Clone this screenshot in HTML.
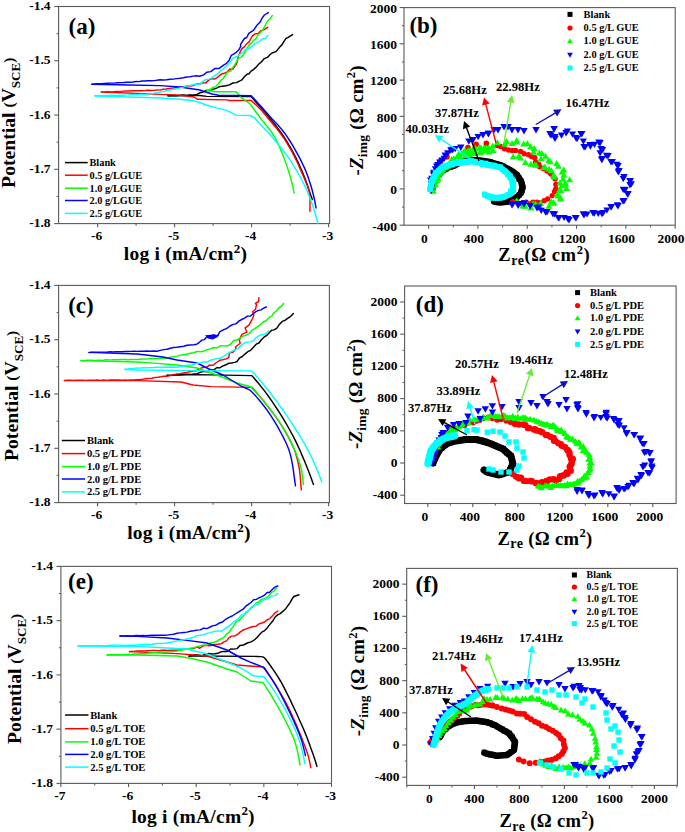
<!DOCTYPE html><html><head><meta charset="utf-8"><style>html,body{margin:0;padding:0;background:#fff;}svg{display:block;}</style></head><body>
<svg width="685" height="832" viewBox="0 0 685 832" font-family='"Liberation Serif", serif' font-weight="bold" fill="#000">
<rect width="685" height="832" fill="#fff"/>
<rect x="58.6" y="6.5" width="271.0" height="217.1" fill="none" stroke="#5a5a5a" stroke-width="1.1"/>
<line x1="54.2" y1="6.5" x2="58.6" y2="6.5" stroke="#5a5a5a" stroke-width="1.1"/>
<text x="50.6" y="10.1" font-size="13.5" text-anchor="end" >-1.4</text>
<line x1="54.2" y1="60.775" x2="58.6" y2="60.775" stroke="#5a5a5a" stroke-width="1.1"/>
<text x="50.6" y="64.4" font-size="13.5" text-anchor="end" >-1.5</text>
<line x1="54.2" y1="115.05" x2="58.6" y2="115.05" stroke="#5a5a5a" stroke-width="1.1"/>
<text x="50.6" y="118.6" font-size="13.5" text-anchor="end" >-1.6</text>
<line x1="54.2" y1="169.325" x2="58.6" y2="169.325" stroke="#5a5a5a" stroke-width="1.1"/>
<text x="50.6" y="172.9" font-size="13.5" text-anchor="end" >-1.7</text>
<line x1="54.2" y1="223.6" x2="58.6" y2="223.6" stroke="#5a5a5a" stroke-width="1.1"/>
<text x="50.6" y="227.2" font-size="13.5" text-anchor="end" >-1.8</text>
<line x1="56.6" y1="33.6375" x2="58.6" y2="33.6375" stroke="#5a5a5a" stroke-width="1"/>
<line x1="56.6" y1="87.9125" x2="58.6" y2="87.9125" stroke="#5a5a5a" stroke-width="1"/>
<line x1="56.6" y1="142.1875" x2="58.6" y2="142.1875" stroke="#5a5a5a" stroke-width="1"/>
<line x1="56.6" y1="196.4625" x2="58.6" y2="196.4625" stroke="#5a5a5a" stroke-width="1"/>
<line x1="97.6" y1="223.6" x2="97.6" y2="227.2" stroke="#5a5a5a" stroke-width="1.1"/>
<text x="96.6" y="240.4" font-size="13.5" text-anchor="middle" >-6</text>
<line x1="174.6" y1="223.6" x2="174.6" y2="227.2" stroke="#5a5a5a" stroke-width="1.1"/>
<text x="173.6" y="240.4" font-size="13.5" text-anchor="middle" >-5</text>
<line x1="251.6" y1="223.6" x2="251.6" y2="227.2" stroke="#5a5a5a" stroke-width="1.1"/>
<text x="250.6" y="240.4" font-size="13.5" text-anchor="middle" >-4</text>
<line x1="328.6" y1="223.6" x2="328.6" y2="227.2" stroke="#5a5a5a" stroke-width="1.1"/>
<text x="327.6" y="240.4" font-size="13.5" text-anchor="middle" >-3</text>
<line x1="136.1" y1="223.6" x2="136.1" y2="225.79999999999998" stroke="#5a5a5a" stroke-width="1"/>
<line x1="213.1" y1="223.6" x2="213.1" y2="225.79999999999998" stroke="#5a5a5a" stroke-width="1"/>
<line x1="290.1" y1="223.6" x2="290.1" y2="225.79999999999998" stroke="#5a5a5a" stroke-width="1"/>
<text x="68.6" y="33.6" font-size="23" text-anchor="start" >(a)</text>
<text transform="translate(14.9,187.9) rotate(-90)" font-size="19.7">Potential <tspan font-size="15.5" dy="-0.8">(</tspan><tspan dy="0.8">V</tspan><tspan font-size="13" dy="5">SCE</tspan><tspan font-size="15.5" dy="-5.8">)</tspan></text>
<text x="123.8" y="260" font-size="19.5" letter-spacing="0.23">log i (mA/cm<tspan font-size="13" dy="-7.5">2</tspan><tspan dy="7.5">)</tspan></text>
<line x1="65" y1="162.6" x2="87.7" y2="162.6" stroke="#000000" stroke-width="1.5"/>
<text x="89.5" y="166.1" font-size="10.3" text-anchor="start" >Blank</text>
<line x1="65" y1="175.2" x2="87.7" y2="175.2" stroke="#ff0000" stroke-width="1.5"/>
<text x="89.5" y="178.7" font-size="10.3" text-anchor="start" >0.5 g/LGUE</text>
<line x1="65" y1="188.2" x2="87.7" y2="188.2" stroke="#00ff00" stroke-width="1.5"/>
<text x="89.5" y="191.7" font-size="10.3" text-anchor="start" >1.0 g/LGUE</text>
<line x1="65" y1="200.5" x2="87.7" y2="200.5" stroke="#0000ff" stroke-width="1.5"/>
<text x="89.5" y="204" font-size="10.3" text-anchor="start" >2.0 g/LGUE</text>
<line x1="65" y1="213.4" x2="87.7" y2="213.4" stroke="#00ffff" stroke-width="1.5"/>
<text x="89.5" y="216.9" font-size="10.3" text-anchor="start" >2.5 g/LGUE</text>
<polyline points="168.0,96.0 197.5,95.3 206.9,96.4 251.2,96.6 253.1,98.7 255.7,101.7 258.7,105.2 262.0,108.9 265.2,112.6 268.0,116.0 270.5,119.1 272.9,122.0 275.3,125.0 277.6,127.9 279.8,130.9 282.0,134.0 284.1,137.2 286.2,140.4 288.2,143.8 290.2,147.1 292.1,150.5 294.0,154.0 295.8,157.6 297.6,161.4 299.4,165.2 301.0,169.0 302.6,172.6 304.0,176.0 305.3,179.2 306.4,182.4 307.5,185.5 308.4,188.3 309.3,190.8 310.0,193.0 310.6,194.8 311.2,196.2 311.6,197.3 311.9,198.2 312.2,198.9 312.4,199.5" fill="none" stroke="#000000" stroke-width="1.45" stroke-linejoin="round" stroke-linecap="round"/>
<polyline points="168.0,95.4 171.1,95.3 174.2,95.4 177.3,95.4 180.4,95.3 183.5,95.0 186.7,95.4 189.7,95.0 192.9,95.3 196.1,94.8 199.8,92.8 203.2,92.0 206.3,90.4 209.9,90.7 213.0,89.4 216.5,88.1 219.6,86.6 222.5,86.2 226.1,85.8 229.3,84.9 232.8,83.0 236.5,82.6 239.5,81.1 242.0,79.8 244.5,76.6 247.0,74.3 249.0,73.7 251.1,71.1 253.4,69.6 256.2,67.1 258.6,64.2 261.4,61.9 264.3,58.6 267.4,57.4 270.1,54.5 272.7,52.7 276.0,51.6 280.2,46.5 281.9,44.9 283.7,41.9 285.8,38.7 287.7,37.6 292.6,34.6" fill="none" stroke="#000000" stroke-width="1.45" stroke-linejoin="round" stroke-linecap="round"/>
<polyline points="101.4,92.0 160.0,94.4 180.0,95.3 194.0,97.0 197.5,99.3 226.7,99.9 229.0,100.5 251.2,100.5 252.2,101.4 253.5,102.6 255.2,104.1 256.9,105.7 258.5,107.2 260.0,108.7 261.2,110.0 262.2,111.1 263.1,112.2 264.1,113.5 265.4,115.0 267.0,117.0 269.1,119.5 271.5,122.3 274.2,125.5 276.9,128.8 279.6,132.2 282.0,135.5 284.2,138.7 286.3,142.0 288.3,145.4 290.3,148.8 292.2,152.2 294.0,155.7 295.8,159.3 297.7,163.2 299.4,167.1 301.1,170.9 302.6,174.4 304.0,177.6 305.2,180.4 306.2,182.9 307.1,185.1 307.8,187.2 308.5,189.1 309.0,191.0 309.4,192.7 309.7,194.2 309.8,195.6 309.9,197.0 309.9,198.4 310.0,200.0 310.0,201.9 310.0,204.0 310.0,206.2 310.0,208.3 309.9,210.0 309.9,211.3" fill="none" stroke="#ff0000" stroke-width="1.45" stroke-linejoin="round" stroke-linecap="round"/>
<polyline points="101.3,91.9 104.5,92.1 107.5,91.8 110.7,91.9 113.8,91.8 116.8,91.4 119.9,91.6 123.1,91.1 126.0,91.0 129.1,91.0 132.3,90.8 135.2,90.8 138.4,90.8 141.6,90.7 144.6,90.6 147.7,90.2 150.8,90.5 153.9,90.4 156.9,90.0 159.9,90.1 163.0,89.3 166.1,89.0 169.2,88.5 172.2,88.1 175.3,87.8 178.4,87.7 181.6,86.8 184.6,86.5 187.7,86.0 190.8,86.0 193.8,85.3 196.6,84.0 199.9,84.0 203.1,82.6 205.5,83.1 208.8,80.1 211.7,78.7 214.9,79.0 218.3,76.6 221.1,74.2 224.3,73.3 227.3,71.8 229.9,69.0 232.9,69.2 236.4,64.1 237.6,60.4 238.3,56.4 240.2,51.9 241.7,48.9 244.2,46.9 247.0,43.4 249.0,42.2 250.9,38.5 252.4,35.9 255.1,33.9 258.1,33.5 260.9,30.7 264.3,29.6 267.7,27.2" fill="none" stroke="#ff0000" stroke-width="1.45" stroke-linejoin="round" stroke-linecap="round"/>
<polyline points="207.0,90.0 215.0,91.8 236.1,91.8 241.9,98.2 250.1,104.0 251.1,105.4 252.5,107.3 254.2,109.6 256.1,112.2 258.0,114.8 260.0,117.5 262.1,120.2 264.4,123.0 266.8,126.0 269.3,129.0 271.6,132.2 273.7,135.5 275.6,138.9 277.5,142.6 279.2,146.3 280.8,150.1 282.4,153.8 283.8,157.4 285.1,160.9 286.4,164.4 287.5,167.9 288.6,171.3 289.6,174.5 290.5,177.6 291.3,180.6 292.1,183.7 292.8,186.6 293.4,189.2 293.8,191.4 294.2,193.0" fill="none" stroke="#00ff00" stroke-width="1.45" stroke-linejoin="round" stroke-linecap="round"/>
<polyline points="206.7,90.4 210.3,89.3 213.2,87.3 215.8,86.6 218.4,83.8 221.2,80.0 223.3,78.4 225.9,74.3 227.8,72.0 230.7,71.1 232.1,68.4 234.6,65.3 236.1,62.3 238.3,58.4 241.2,57.1 243.2,55.1 245.1,52.2 247.3,48.0 248.8,45.4 251.2,43.4 253.6,40.3 255.9,38.6 258.3,34.5 260.8,32.4 263.0,29.3 265.0,25.9 266.8,22.2 268.6,20.0 270.2,18.7 272.4,15.5" fill="none" stroke="#00ff00" stroke-width="1.45" stroke-linejoin="round" stroke-linecap="round"/>
<polyline points="92.0,84.2 130.0,85.0 160.0,85.6 180.0,87.0 200.0,90.0 203.4,91.2 212.0,94.0 218.5,95.3 251.2,95.8 252.1,96.8 253.4,98.1 255.0,99.8 256.6,101.5 258.3,103.4 260.0,105.2 261.6,107.0 263.2,108.8 264.9,110.8 266.6,112.7 268.4,114.8 270.3,117.0 272.4,119.3 274.6,121.6 277.0,124.1 279.3,126.6 281.6,129.3 283.8,132.0 285.9,134.9 287.9,137.9 289.9,141.0 291.9,144.1 293.8,147.4 295.6,150.6 297.4,153.9 299.2,157.2 301.0,160.6 302.6,164.0 304.2,167.4 305.7,170.8 307.0,174.2 308.3,177.7 309.4,181.1 310.5,184.5 311.5,187.8 312.4,191.0 313.2,194.2 314.0,197.5 314.7,200.7 315.3,203.6 315.7,206.1 316.1,207.9" fill="none" stroke="#0000ff" stroke-width="1.45" stroke-linejoin="round" stroke-linecap="round"/>
<polyline points="91.9,84.2 95.2,84.0 98.3,83.8 101.5,83.8 104.6,83.5 107.8,83.2 111.0,83.1 114.2,83.1 117.4,82.7 120.5,82.6 123.7,82.5 126.8,82.2 130.0,82.2 133.0,82.0 136.1,81.5 139.0,81.6 142.1,81.0 144.9,81.0 147.9,80.7 150.9,80.7 154.0,80.6 156.9,80.3 160.0,79.8 163.4,80.0 166.6,79.7 170.0,79.2 173.4,79.1 176.6,78.6 180.0,78.3 183.3,77.8 186.7,77.0 190.0,76.7 193.3,76.1 196.7,75.7 199.7,76.2 203.7,74.9 206.7,72.2 210.8,71.6 215.0,68.4 219.2,68.4 223.6,65.2 226.1,63.7 229.2,60.3 231.2,55.4 234.0,53.9 235.9,52.7 238.6,50.1 240.6,46.7 240.6,44.3 244.4,38.5 246.7,37.5 248.8,33.4 253.7,30.1 256.9,25.3 260.4,21.8 261.8,18.6 264.4,15.0 268.3,12.6" fill="none" stroke="#0000ff" stroke-width="1.45" stroke-linejoin="round" stroke-linecap="round"/>
<polyline points="95.0,96.0 160.0,98.0 180.0,99.3 191.7,100.5 197.5,101.7 206.9,105.2 217.4,108.1 226.7,110.4 231.4,112.8 236.1,115.1 250.1,115.5 254.7,118.0 255.2,118.6 255.8,119.2 256.5,120.1 257.4,121.1 258.6,122.4 260.0,124.0 261.8,125.9 263.8,128.0 266.1,130.4 268.6,133.0 271.1,135.8 273.7,138.8 276.4,142.0 279.2,145.5 282.1,149.2 285.0,153.0 287.9,156.9 290.5,160.7 293.0,164.6 295.4,168.6 297.8,172.6 300.0,176.6 302.1,180.5 304.0,184.3 305.7,187.9 307.3,191.3 308.7,194.7 310.0,198.0 311.2,201.3 312.4,204.5 313.5,207.9 314.6,211.5 315.6,215.0 316.5,218.3 317.2,221.0 317.8,223.0" fill="none" stroke="#00ffff" stroke-width="1.45" stroke-linejoin="round" stroke-linecap="round"/>
<polyline points="95.0,95.8 98.0,95.6 101.1,95.5 104.2,95.7 107.2,95.5 110.3,95.2 113.4,95.3 116.4,95.4 119.4,95.1 122.5,95.3 125.5,95.1 128.6,94.9 131.7,94.6 134.6,94.4 137.7,94.6 140.8,94.1 143.8,94.4 147.0,94.2 150.0,93.9 153.0,93.4 155.9,92.8 159.0,92.5 162.1,91.6 165.0,91.3 168.0,90.3 170.9,89.7 174.0,89.2 177.0,88.6 179.9,87.9 183.3,87.1 186.6,86.1 190.0,85.5 193.3,84.8 196.8,84.3 200.1,84.0 202.9,81.4 206.2,79.5 208.9,79.2 211.4,78.1 215.1,75.3 218.1,73.4 220.8,70.5 223.3,68.8 225.9,66.5 228.1,64.3 230.5,61.9 232.5,58.5 234.8,57.3 237.5,56.4 240.5,53.9 243.3,52.1 246.3,48.7 249.7,48.4 252.6,46.0 255.4,43.4 258.2,42.2 260.4,40.7 263.2,38.6 265.5,38.4 267.7,35.4" fill="none" stroke="#00ffff" stroke-width="1.45" stroke-linejoin="round" stroke-linecap="round"/>
<rect x="58.6" y="285.4" width="270.79999999999995" height="217.20000000000005" fill="none" stroke="#5a5a5a" stroke-width="1.1"/>
<line x1="54.2" y1="285.4" x2="58.6" y2="285.4" stroke="#5a5a5a" stroke-width="1.1"/>
<text x="50.6" y="289" font-size="13.5" text-anchor="end" >-1.4</text>
<line x1="54.2" y1="339.7" x2="58.6" y2="339.7" stroke="#5a5a5a" stroke-width="1.1"/>
<text x="50.6" y="343.3" font-size="13.5" text-anchor="end" >-1.5</text>
<line x1="54.2" y1="394.0" x2="58.6" y2="394.0" stroke="#5a5a5a" stroke-width="1.1"/>
<text x="50.6" y="397.6" font-size="13.5" text-anchor="end" >-1.6</text>
<line x1="54.2" y1="448.3" x2="58.6" y2="448.3" stroke="#5a5a5a" stroke-width="1.1"/>
<text x="50.6" y="451.9" font-size="13.5" text-anchor="end" >-1.7</text>
<line x1="54.2" y1="502.6" x2="58.6" y2="502.6" stroke="#5a5a5a" stroke-width="1.1"/>
<text x="50.6" y="506.2" font-size="13.5" text-anchor="end" >-1.8</text>
<line x1="56.6" y1="312.54999999999995" x2="58.6" y2="312.54999999999995" stroke="#5a5a5a" stroke-width="1"/>
<line x1="56.6" y1="366.85" x2="58.6" y2="366.85" stroke="#5a5a5a" stroke-width="1"/>
<line x1="56.6" y1="421.15" x2="58.6" y2="421.15" stroke="#5a5a5a" stroke-width="1"/>
<line x1="56.6" y1="475.45000000000005" x2="58.6" y2="475.45000000000005" stroke="#5a5a5a" stroke-width="1"/>
<line x1="97.6" y1="502.6" x2="97.6" y2="506.20000000000005" stroke="#5a5a5a" stroke-width="1.1"/>
<text x="96.6" y="518.6" font-size="13.5" text-anchor="middle" >-6</text>
<line x1="174.6" y1="502.6" x2="174.6" y2="506.20000000000005" stroke="#5a5a5a" stroke-width="1.1"/>
<text x="173.6" y="518.6" font-size="13.5" text-anchor="middle" >-5</text>
<line x1="251.6" y1="502.6" x2="251.6" y2="506.20000000000005" stroke="#5a5a5a" stroke-width="1.1"/>
<text x="250.6" y="518.6" font-size="13.5" text-anchor="middle" >-4</text>
<line x1="328.6" y1="502.6" x2="328.6" y2="506.20000000000005" stroke="#5a5a5a" stroke-width="1.1"/>
<text x="327.6" y="518.6" font-size="13.5" text-anchor="middle" >-3</text>
<line x1="136.1" y1="502.6" x2="136.1" y2="504.8" stroke="#5a5a5a" stroke-width="1"/>
<line x1="213.1" y1="502.6" x2="213.1" y2="504.8" stroke="#5a5a5a" stroke-width="1"/>
<line x1="290.1" y1="502.6" x2="290.1" y2="504.8" stroke="#5a5a5a" stroke-width="1"/>
<text x="68.2" y="312.8" font-size="23" text-anchor="start" >(c)</text>
<text transform="translate(18,461) rotate(-90)" font-size="19.7">Potential <tspan font-size="15.5" dy="-0.8">(</tspan><tspan dy="0.8">V</tspan><tspan font-size="13" dy="5">SCE</tspan><tspan font-size="15.5" dy="-5.8">)</tspan></text>
<text x="127.2" y="539.2" font-size="19.5" letter-spacing="0.23">log i (mA/cm<tspan font-size="13" dy="-7.5">2</tspan><tspan dy="7.5">)</tspan></text>
<line x1="61.8" y1="440.5" x2="85.1" y2="440.5" stroke="#000000" stroke-width="1.5"/>
<text x="86.9" y="444" font-size="10.6" text-anchor="start" >Blank</text>
<line x1="61.8" y1="453.6" x2="85.1" y2="453.6" stroke="#ff0000" stroke-width="1.5"/>
<text x="86.9" y="457.1" font-size="10.6" text-anchor="start" >0.5 g/L PDE</text>
<line x1="61.8" y1="466.6" x2="85.1" y2="466.6" stroke="#00ff00" stroke-width="1.5"/>
<text x="86.9" y="470.1" font-size="10.6" text-anchor="start" >1.0 g/L PDE</text>
<line x1="61.8" y1="479" x2="85.1" y2="479" stroke="#0000ff" stroke-width="1.5"/>
<text x="86.9" y="482.5" font-size="10.6" text-anchor="start" >2.0 g/L PDE</text>
<line x1="61.8" y1="491.9" x2="85.1" y2="491.9" stroke="#00ffff" stroke-width="1.5"/>
<text x="86.9" y="495.4" font-size="10.6" text-anchor="start" >2.5 g/L PDE</text>
<path d="M205,335.2L213,334.4L219.2,335.2L217,337.6L212.5,339.4L208,338.6Z" fill="#0000ff"/>
<polyline points="167.0,375.4 197.0,374.6 251.9,375.6 253.5,377.5 255.6,380.0 258.2,383.0 260.9,386.4 263.7,389.9 266.4,393.4 269.0,397.0 271.7,400.9 274.4,404.9 277.1,409.0 279.8,413.1 282.3,417.1 284.7,421.1 287.0,425.0 289.2,429.0 291.4,433.0 293.5,436.9 295.5,440.9 297.4,444.9 299.3,449.0 301.1,453.0 302.8,457.1 304.5,461.0 306.0,464.7 307.5,468.5 309.0,472.3 310.4,476.1 311.7,479.5 312.7,482.4 313.5,484.5" fill="none" stroke="#000000" stroke-width="1.45" stroke-linejoin="round" stroke-linecap="round"/>
<polyline points="167.0,375.3 170.0,375.4 173.0,375.2 176.0,374.8 178.9,374.7 182.0,374.6 185.0,374.3 187.9,374.3 191.0,374.4 194.0,374.0 197.0,373.9 200.3,372.2 203.9,371.4 207.3,371.9 210.0,369.9 213.9,369.9 217.0,367.5 219.7,367.9 222.5,366.2 225.4,365.0 228.7,363.3 231.5,363.0 234.4,362.4 236.8,361.8 239.7,357.8 242.2,356.5 245.2,353.9 247.8,351.7 250.6,350.3 253.0,347.8 256.2,344.2 258.9,343.0 261.4,339.7 263.7,337.4 266.7,335.4 269.0,333.1 271.6,330.3 274.1,329.9 276.9,328.2 279.5,324.2 282.3,321.4 284.9,320.3 288.0,318.1 290.7,316.3 293.4,313.5" fill="none" stroke="#000000" stroke-width="1.45" stroke-linejoin="round" stroke-linecap="round"/>
<polyline points="64.4,380.6 137.0,380.6 181.0,382.0 193.0,385.0 211.0,386.6 252.0,387.4 253.2,388.8 254.9,390.7 256.9,393.0 259.1,395.6 261.5,398.4 263.8,401.3 266.2,404.4 268.9,407.7 271.6,411.2 274.4,414.9 277.1,418.6 279.6,422.4 282.0,426.2 284.5,430.2 286.9,434.3 289.1,438.4 291.1,442.4 292.9,446.2 294.4,449.8 295.6,453.3 296.6,456.7 297.5,460.0 298.3,463.5 299.0,467.0 299.6,470.9 300.1,475.3 300.5,479.7 300.8,483.8 301.1,487.3 301.3,489.8" fill="none" stroke="#ff0000" stroke-width="1.45" stroke-linejoin="round" stroke-linecap="round"/>
<polyline points="64.5,380.4 67.5,380.2 70.5,380.3 73.5,380.4 76.5,380.1 79.6,380.1 82.5,380.2 85.5,380.4 88.7,380.1 91.6,380.2 94.7,380.2 97.6,380.0 100.7,380.4 103.7,380.0 106.8,380.4 109.8,380.0 112.8,379.9 115.8,379.9 118.8,380.0 121.9,380.3 124.9,380.0 127.9,380.1 130.9,380.0 133.9,379.9 137.1,379.8 140.0,379.7 143.1,379.1 146.0,378.7 149.0,378.4 152.1,378.2 155.1,377.4 157.9,377.3 161.1,376.8 164.0,376.2 167.0,376.2 170.3,375.6 173.6,374.6 176.7,374.0 180.0,373.6 183.3,373.0 186.5,372.4 189.7,371.7 192.9,371.1 196.2,370.8 199.8,368.6 202.8,367.5 206.4,367.4 209.4,365.1 213.0,365.2 216.4,362.5 220.1,360.2 222.8,359.8 226.1,358.9 228.9,357.3 229.4,353.0 233.2,352.0 236.2,348.6 235.4,347.0 240.2,343.3 239.3,340.4 241.9,334.3 246.8,332.1 245.1,327.9 249.0,325.1 251.7,320.2 253.0,317.5 253.9,314.5 252.5,311.7 255.5,309.2 256.5,304.8 255.4,303.3 258.6,301.5 258.9,297.7" fill="none" stroke="#ff0000" stroke-width="1.45" stroke-linejoin="round" stroke-linecap="round"/>
<polyline points="81.0,360.6 137.0,362.0 157.0,363.4 177.0,365.0 197.0,368.0 217.0,375.0 237.0,383.0 250.6,386.7 252.0,388.2 253.9,390.2 256.2,392.7 258.7,395.4 261.3,398.3 263.8,401.3 266.3,404.4 269.0,407.8 271.7,411.3 274.4,414.9 277.1,418.7 279.6,422.4 282.0,426.2 284.4,430.2 286.7,434.3 289.0,438.4 291.0,442.4 292.9,446.2 294.6,449.9 296.1,453.6 297.5,457.2 298.8,460.7 299.9,464.0 300.8,467.3 301.6,470.6 302.2,474.0 302.6,477.2 302.9,480.2 303.2,482.7 303.4,484.5" fill="none" stroke="#00ff00" stroke-width="1.45" stroke-linejoin="round" stroke-linecap="round"/>
<polyline points="80.9,360.5 84.1,360.8 87.2,360.2 90.3,360.3 93.5,360.5 96.6,360.5 99.7,360.1 102.7,360.4 105.9,359.8 109.0,359.9 112.1,359.8 115.2,359.6 118.3,359.7 121.5,359.5 124.6,359.5 127.6,359.8 130.8,359.5 133.8,359.5 137.0,359.6 140.0,359.2 143.1,358.9 146.0,359.1 149.0,358.6 151.9,358.5 155.1,358.4 158.0,358.6 161.0,358.2 164.1,358.2 167.0,358.1 170.3,357.2 173.6,356.8 177.1,356.1 180.4,355.1 183.6,354.7 187.1,354.2 190.3,353.2 193.7,352.7 197.3,351.4 200.5,351.8 203.9,351.2 207.1,349.7 210.2,348.9 213.8,347.5 216.8,348.0 220.2,345.8 223.4,345.9 226.9,346.0 230.6,344.3 233.5,340.8 236.8,340.0 240.1,338.1 242.8,336.3 246.1,335.1 249.1,333.7 252.1,330.1 255.2,328.4 258.0,326.4 261.1,324.0 263.5,321.8 266.1,320.8 269.1,317.4 271.6,316.4 274.1,312.5 276.6,310.9 279.1,307.5 281.2,306.5 283.6,303.5" fill="none" stroke="#00ff00" stroke-width="1.45" stroke-linejoin="round" stroke-linecap="round"/>
<polyline points="89.0,352.4 137.0,354.0 163.0,357.0 177.0,360.0 197.0,363.0 209.0,369.0 223.0,375.0 241.0,386.0 241.4,386.2 242.0,386.4 242.7,386.8 243.5,387.1 244.4,387.5 245.3,388.0 246.2,388.4 247.0,388.7 248.0,389.1 249.0,389.6 250.3,390.5 251.9,392.0 253.9,394.1 256.2,396.6 258.7,399.5 261.4,402.7 264.0,406.0 266.4,409.2 268.7,412.5 271.0,415.8 273.2,419.3 275.4,422.9 277.6,426.6 279.6,430.3 281.6,434.0 283.5,437.7 285.4,441.5 287.2,445.5 288.8,449.6 290.2,454.1 291.5,459.3 292.6,465.3 293.5,471.4 294.3,477.3 295.0,482.3 295.5,485.8" fill="none" stroke="#0000ff" stroke-width="1.45" stroke-linejoin="round" stroke-linecap="round"/>
<polyline points="89.1,352.6 91.9,352.2 94.9,352.1 98.1,352.3 101.1,352.1 104.1,352.1 107.0,352.2 110.1,351.8 113.0,352.0 116.0,351.8 118.9,351.6 122.0,351.8 125.0,351.5 127.9,351.5 131.0,351.4 134.0,351.3 137.0,351.4 140.3,351.1 143.7,351.3 147.0,351.0 150.3,351.2 153.7,351.0 157.0,351.2 160.3,350.4 163.6,349.6 167.1,349.2 170.3,348.2 173.7,347.5 176.9,347.2 180.3,346.7 183.7,346.2 187.0,345.3 190.3,345.0 193.7,344.7 196.8,344.2 199.4,342.3 201.8,340.1 204.5,339.6 206.8,337.0 210.5,337.3 213.5,334.9 217.3,336.0 220.0,331.6 223.3,329.8 226.6,328.6 229.9,326.0 233.2,324.4 235.9,323.9 239.2,320.9 241.8,319.5 245.0,317.8 247.4,316.1 250.5,316.0 252.7,314.0 255.9,311.6 258.6,310.4 261.1,309.9 263.8,308.0 266.4,307.0" fill="none" stroke="#0000ff" stroke-width="1.45" stroke-linejoin="round" stroke-linecap="round"/>
<polyline points="125.0,369.5 137.0,370.0 197.0,370.6 251.9,370.9 253.5,372.7 255.6,375.2 258.2,378.1 260.9,381.4 263.7,384.7 266.4,388.0 269.0,391.3 271.6,394.7 274.3,398.2 277.0,401.8 279.6,405.5 282.3,409.2 285.0,413.0 287.7,416.9 290.4,420.9 293.0,425.0 295.6,429.0 298.1,433.0 300.5,437.0 302.8,440.9 305.1,444.8 307.3,448.8 309.4,452.8 311.4,456.8 313.4,461.2 315.5,466.0 317.5,470.8 319.3,475.3 320.8,479.2 321.9,481.9" fill="none" stroke="#00ffff" stroke-width="1.45" stroke-linejoin="round" stroke-linecap="round"/>
<polyline points="125.0,369.2 128.0,369.0 131.0,368.6 133.9,368.4 137.0,367.9 140.1,368.1 143.1,367.7 146.2,367.6 149.3,367.7 152.3,367.6 155.5,367.3 158.6,367.3 161.7,367.5 164.7,367.1 167.8,367.2 170.9,367.0 174.0,367.3 177.0,367.2 180.3,366.7 183.7,366.2 187.1,365.3 190.4,365.2 193.6,364.4 197.2,363.3 200.6,362.7 203.9,361.6 207.0,362.3 210.2,360.2 213.7,359.5 216.7,358.4 219.6,358.5 222.7,357.0 225.2,355.4 228.0,353.5 231.1,351.7 234.0,350.3 236.6,349.2 239.2,347.6 242.3,344.6 245.2,342.5 249.4,341.9 253.1,341.0 255.8,338.1 258.5,336.1 261.2,334.7 264.8,334.2 268.5,331.2" fill="none" stroke="#00ffff" stroke-width="1.45" stroke-linejoin="round" stroke-linecap="round"/>
<rect x="60.9" y="566.4" width="270.6" height="217.0" fill="none" stroke="#5a5a5a" stroke-width="1.1"/>
<line x1="56.5" y1="566.4" x2="60.9" y2="566.4" stroke="#5a5a5a" stroke-width="1.1"/>
<text x="52.9" y="570" font-size="13.5" text-anchor="end" >-1.4</text>
<line x1="56.5" y1="620.65" x2="60.9" y2="620.65" stroke="#5a5a5a" stroke-width="1.1"/>
<text x="52.9" y="624.2" font-size="13.5" text-anchor="end" >-1.5</text>
<line x1="56.5" y1="674.9" x2="60.9" y2="674.9" stroke="#5a5a5a" stroke-width="1.1"/>
<text x="52.9" y="678.5" font-size="13.5" text-anchor="end" >-1.6</text>
<line x1="56.5" y1="729.15" x2="60.9" y2="729.15" stroke="#5a5a5a" stroke-width="1.1"/>
<text x="52.9" y="732.8" font-size="13.5" text-anchor="end" >-1.7</text>
<line x1="56.5" y1="783.4" x2="60.9" y2="783.4" stroke="#5a5a5a" stroke-width="1.1"/>
<text x="52.9" y="787" font-size="13.5" text-anchor="end" >-1.8</text>
<line x1="58.9" y1="593.525" x2="60.9" y2="593.525" stroke="#5a5a5a" stroke-width="1"/>
<line x1="58.9" y1="647.775" x2="60.9" y2="647.775" stroke="#5a5a5a" stroke-width="1"/>
<line x1="58.9" y1="702.025" x2="60.9" y2="702.025" stroke="#5a5a5a" stroke-width="1"/>
<line x1="58.9" y1="756.275" x2="60.9" y2="756.275" stroke="#5a5a5a" stroke-width="1"/>
<line x1="60.9" y1="783.4" x2="60.9" y2="787.0" stroke="#5a5a5a" stroke-width="1.1"/>
<text x="59.9" y="800.1" font-size="13.5" text-anchor="middle" >-7</text>
<line x1="128.55" y1="783.4" x2="128.55" y2="787.0" stroke="#5a5a5a" stroke-width="1.1"/>
<text x="127.6" y="800.1" font-size="13.5" text-anchor="middle" >-6</text>
<line x1="196.20000000000002" y1="783.4" x2="196.20000000000002" y2="787.0" stroke="#5a5a5a" stroke-width="1.1"/>
<text x="195.2" y="800.1" font-size="13.5" text-anchor="middle" >-5</text>
<line x1="263.85" y1="783.4" x2="263.85" y2="787.0" stroke="#5a5a5a" stroke-width="1.1"/>
<text x="262.9" y="800.1" font-size="13.5" text-anchor="middle" >-4</text>
<line x1="331.5" y1="783.4" x2="331.5" y2="787.0" stroke="#5a5a5a" stroke-width="1.1"/>
<text x="330.5" y="800.1" font-size="13.5" text-anchor="middle" >-3</text>
<line x1="94.725" y1="783.4" x2="94.725" y2="785.6" stroke="#5a5a5a" stroke-width="1"/>
<line x1="162.375" y1="783.4" x2="162.375" y2="785.6" stroke="#5a5a5a" stroke-width="1"/>
<line x1="230.025" y1="783.4" x2="230.025" y2="785.6" stroke="#5a5a5a" stroke-width="1"/>
<line x1="297.675" y1="783.4" x2="297.675" y2="785.6" stroke="#5a5a5a" stroke-width="1"/>
<text x="68.1" y="589.3" font-size="23" text-anchor="start" >(e)</text>
<text transform="translate(21.3,744) rotate(-90)" font-size="19.7">Potential <tspan font-size="15.5" dy="-0.8">(</tspan><tspan dy="0.8">V</tspan><tspan font-size="13" dy="5">SCE</tspan><tspan font-size="15.5" dy="-5.8">)</tspan></text>
<text x="131.4" y="822.7" font-size="19.5" letter-spacing="0.23">log i (mA/cm<tspan font-size="13" dy="-7.5">2</tspan><tspan dy="7.5">)</tspan></text>
<line x1="65.1" y1="715" x2="88.5" y2="715" stroke="#000000" stroke-width="1.5"/>
<text x="90.2" y="718.5" font-size="10.6" text-anchor="start" >Blank</text>
<line x1="65.1" y1="728.7" x2="88.5" y2="728.7" stroke="#ff0000" stroke-width="1.5"/>
<text x="90.2" y="732.2" font-size="10.6" text-anchor="start" >0.5 g/L TOE</text>
<line x1="65.1" y1="741.9" x2="88.5" y2="741.9" stroke="#00ff00" stroke-width="1.5"/>
<text x="90.2" y="745.4" font-size="10.6" text-anchor="start" >1.0 g/L TOE</text>
<line x1="65.1" y1="754.4" x2="88.5" y2="754.4" stroke="#0000ff" stroke-width="1.5"/>
<text x="90.2" y="757.9" font-size="10.6" text-anchor="start" >2.0 g/L TOE</text>
<line x1="65.1" y1="767.1" x2="88.5" y2="767.1" stroke="#00ffff" stroke-width="1.5"/>
<text x="90.2" y="770.6" font-size="10.6" text-anchor="start" >2.5 g/L TOE</text>
<polyline points="189.0,656.0 257.0,656.4 263.0,656.9 263.3,657.2 263.7,657.4 264.2,657.7 264.8,658.3 265.7,659.3 267.0,661.0 268.7,663.3 270.8,666.2 273.2,669.6 275.6,673.2 278.1,677.1 280.5,681.0 282.8,685.1 285.1,689.6 287.4,694.2 289.7,698.9 291.9,703.6 294.0,708.0 296.0,712.3 298.0,716.5 299.8,720.7 301.6,724.7 303.4,728.7 305.0,732.6 306.6,736.5 308.0,740.3 309.4,744.1 310.7,747.7 311.9,751.0 313.0,754.0 313.9,756.7 314.8,759.3 315.5,761.5 316.1,763.5 316.6,765.2 317.0,766.4" fill="none" stroke="#000000" stroke-width="1.45" stroke-linejoin="round" stroke-linecap="round"/>
<polyline points="189.0,656.1 192.2,655.5 195.2,654.8 198.8,655.1 202.0,655.8 205.0,654.2 208.6,653.5 211.5,654.0 214.8,653.7 218.0,653.3 221.3,651.7 224.5,651.4 227.4,651.4 230.6,649.0 233.6,649.1 237.2,648.6 239.9,645.5 243.4,645.0 247.4,643.0 251.1,641.9 254.3,640.0 256.8,637.8 259.4,634.7 262.3,631.8 264.7,630.6 266.7,628.6 269.3,625.1 270.8,623.3 273.0,620.7 275.2,617.0 277.6,614.9 280.2,613.6 283.4,610.9 285.7,608.7 288.1,605.3 290.1,602.6 291.8,599.3 293.8,596.5 299.0,594.7" fill="none" stroke="#000000" stroke-width="1.45" stroke-linejoin="round" stroke-linecap="round"/>
<polyline points="129.6,651.6 177.0,653.6 207.0,656.0 227.0,662.0 237.0,665.0 263.0,667.0 264.3,668.8 266.1,671.1 268.2,674.0 270.4,677.2 272.8,680.6 275.0,684.0 277.2,687.6 279.5,691.5 281.9,695.5 284.2,699.7 286.5,703.9 288.6,708.0 290.6,712.1 292.5,716.3 294.4,720.5 296.2,724.6 297.9,728.7 299.5,732.6 301.1,736.4 302.6,740.3 304.0,744.0 305.4,747.6 306.6,750.9 307.6,754.0 308.5,756.9 309.1,759.6 309.7,762.2 310.2,764.4 310.5,766.3 310.8,767.7" fill="none" stroke="#ff0000" stroke-width="1.45" stroke-linejoin="round" stroke-linecap="round"/>
<polyline points="129.6,651.5 133.3,651.4 137.0,650.9 140.1,650.9 143.2,650.9 146.2,650.8 149.4,650.6 152.4,650.4 155.4,650.4 158.6,650.7 161.7,650.3 164.7,650.2 167.7,650.4 170.9,650.3 173.9,650.3 177.0,650.2 180.4,649.8 183.7,649.4 187.0,648.9 190.3,648.7 193.6,648.5 196.8,647.1 199.8,648.2 202.9,646.0 205.7,645.2 209.1,645.8 212.1,645.3 214.7,644.4 217.9,644.3 221.2,643.8 223.4,642.2 226.6,640.9 228.8,637.9 231.4,636.1 234.5,636.1 237.1,634.7 240.1,632.1 242.8,630.2 246.2,628.9 248.9,627.8 253.2,626.5 256.1,626.1 258.8,624.0 261.9,623.0 264.5,622.0 266.7,620.2 269.7,618.6 272.3,616.1 275.1,612.8 277.8,611.0" fill="none" stroke="#ff0000" stroke-width="1.45" stroke-linejoin="round" stroke-linecap="round"/>
<polyline points="107.0,655.0 137.0,655.0 177.0,656.0 189.0,658.0 207.0,662.0 227.0,669.0 237.0,672.0 250.8,681.0 263.0,682.6 264.0,684.1 265.3,686.1 266.9,688.5 268.6,691.2 270.5,694.2 272.4,697.4 274.5,700.9 276.8,704.9 279.2,709.2 281.6,713.5 283.9,717.8 286.0,721.8 287.9,725.6 289.6,729.2 291.3,732.8 292.8,736.3 294.2,739.8 295.4,743.4 296.5,747.2 297.5,751.4 298.3,755.6 299.0,759.4 299.6,762.6 300.0,765.0" fill="none" stroke="#00ff00" stroke-width="1.45" stroke-linejoin="round" stroke-linecap="round"/>
<polyline points="107.1,654.8 110.0,654.7 112.9,654.7 116.0,654.9 118.9,654.6 122.0,654.6 125.0,654.4 128.0,654.5 131.0,654.4 134.0,654.0 137.0,654.0 140.0,653.8 143.1,653.7 146.3,653.5 149.3,653.0 152.4,652.8 155.5,652.4 158.6,652.1 161.6,652.0 164.8,651.9 167.8,651.9 170.8,651.4 173.9,651.4 177.0,651.1 180.3,650.2 183.6,649.8 187.0,649.1 190.3,648.3 193.7,647.7 196.8,646.9 200.6,645.6 203.5,644.9 207.1,645.2 210.1,643.0 213.5,642.5 217.0,641.3 219.4,639.4 222.3,638.5 224.3,636.9 226.8,633.8 229.3,632.2 231.1,629.1 232.8,627.1 234.8,623.8 236.9,621.1 239.3,620.2 241.9,617.2 244.3,614.7 246.4,612.6 248.9,610.5 251.6,607.7 253.8,606.1 256.2,602.9 258.7,602.0 261.2,599.4 264.2,598.6 267.1,597.3 269.3,595.3 271.5,592.5 274.3,590.8 276.5,588.0" fill="none" stroke="#00ff00" stroke-width="1.45" stroke-linejoin="round" stroke-linecap="round"/>
<polyline points="120.0,636.0 137.0,636.4 167.0,638.0 187.0,640.4 207.0,643.0 227.0,650.0 241.0,658.0 250.8,662.3 264.3,667.7 265.8,670.0 267.8,673.0 270.2,676.7 272.8,680.7 275.4,684.9 277.8,689.0 280.1,693.2 282.5,697.8 284.9,702.5 287.2,707.2 289.4,711.7 291.4,716.0 293.3,720.0 295.0,723.9 296.7,727.6 298.2,731.2 299.6,734.7 300.8,738.0 301.9,741.4 302.9,744.8 303.7,748.1 304.4,751.1 305.0,753.6 305.4,755.5" fill="none" stroke="#0000ff" stroke-width="1.45" stroke-linejoin="round" stroke-linecap="round"/>
<polyline points="120.0,635.9 123.4,635.9 126.8,635.8 130.2,636.0 133.6,635.8 137.0,635.5 140.0,635.8 142.9,635.5 145.9,635.6 149.1,635.4 151.9,635.3 155.0,635.3 158.0,635.2 161.0,635.1 164.0,635.3 167.0,635.1 170.3,634.6 173.6,634.2 177.0,633.3 180.3,632.9 183.6,632.5 187.0,632.1 190.3,631.2 193.6,630.8 197.3,630.1 200.2,629.9 203.6,628.1 206.8,628.6 210.2,627.0 213.0,625.6 215.8,625.2 218.9,623.3 222.5,622.0 225.6,619.3 229.0,617.3 232.2,616.0 235.2,614.0 237.9,612.3 241.0,610.4 243.2,609.2 245.9,606.1 248.4,604.4 251.0,602.5 253.6,599.7 256.5,599.4 258.6,598.0 261.8,596.6 264.1,595.4 267.1,592.4 269.4,592.5 272.5,589.2 274.9,587.1 277.8,586.0" fill="none" stroke="#0000ff" stroke-width="1.45" stroke-linejoin="round" stroke-linecap="round"/>
<polyline points="78.0,646.0 137.0,646.4 167.0,648.0 187.0,649.0 207.0,654.0 227.0,662.0 241.0,668.0 253.5,675.8 264.3,677.0 265.4,678.5 267.0,680.6 268.8,683.0 270.8,685.8 272.9,688.8 275.0,692.0 277.1,695.5 279.4,699.3 281.8,703.4 284.2,707.6 286.5,711.9 288.6,716.0 290.6,720.1 292.6,724.2 294.6,728.4 296.4,732.6 298.0,736.7 299.5,740.7 300.8,744.9 301.9,749.3 302.9,753.7 303.7,757.7 304.4,761.1 304.9,763.6" fill="none" stroke="#00ffff" stroke-width="1.45" stroke-linejoin="round" stroke-linecap="round"/>
<polyline points="78.0,646.1 81.1,645.8 84.3,646.0 87.3,646.0 90.4,645.9 93.6,645.9 96.7,645.9 99.7,645.7 102.8,645.7 105.9,645.7 109.1,645.4 112.1,645.2 115.3,645.1 118.4,645.1 121.5,645.3 124.6,645.4 127.6,645.3 130.8,645.1 133.9,645.2 137.0,645.0 140.1,644.6 143.0,644.7 145.9,644.5 149.0,644.4 152.0,644.2 155.0,643.8 158.1,643.4 161.0,643.5 164.0,643.4 167.0,643.0 170.3,642.5 173.6,641.6 177.0,641.0 180.4,640.2 183.7,639.6 187.0,638.9 190.3,638.2 193.7,637.1 196.9,635.6 200.2,635.2 203.7,634.6 206.7,633.4 210.7,632.6 213.7,631.6 217.2,630.9 221.3,631.2 223.8,629.7 226.6,627.6 229.1,625.8 231.8,623.9 234.4,621.3 237.1,619.9 239.4,617.2 241.4,615.1 244.0,614.8 246.2,611.7 248.6,610.6 250.8,607.5 252.9,605.8 255.7,604.4 258.7,604.0 261.1,601.8 263.9,599.5 267.2,599.0 270.0,597.3 272.1,595.9 275.2,595.6 277.8,593.4" fill="none" stroke="#00ffff" stroke-width="1.45" stroke-linejoin="round" stroke-linecap="round"/>
<rect x="404" y="7.6" width="271.20000000000005" height="217.6" fill="none" stroke="#5a5a5a" stroke-width="1.1"/>
<line x1="399.6" y1="7.550000000000011" x2="404" y2="7.550000000000011" stroke="#5a5a5a" stroke-width="1.1"/>
<text x="396.9" y="12.9" font-size="13.5" text-anchor="end" >2000</text>
<line x1="399.6" y1="43.81999999999999" x2="404" y2="43.81999999999999" stroke="#5a5a5a" stroke-width="1.1"/>
<text x="396.9" y="49.1" font-size="13.5" text-anchor="end" >1600</text>
<line x1="399.6" y1="80.08999999999999" x2="404" y2="80.08999999999999" stroke="#5a5a5a" stroke-width="1.1"/>
<text x="396.9" y="85.4" font-size="13.5" text-anchor="end" >1200</text>
<line x1="399.6" y1="116.36" x2="404" y2="116.36" stroke="#5a5a5a" stroke-width="1.1"/>
<text x="396.9" y="121.7" font-size="13.5" text-anchor="end" >800</text>
<line x1="399.6" y1="152.63" x2="404" y2="152.63" stroke="#5a5a5a" stroke-width="1.1"/>
<text x="396.9" y="157.9" font-size="13.5" text-anchor="end" >400</text>
<line x1="399.6" y1="188.9" x2="404" y2="188.9" stroke="#5a5a5a" stroke-width="1.1"/>
<text x="396.9" y="194.2" font-size="13.5" text-anchor="end" >0</text>
<line x1="399.6" y1="225.17000000000002" x2="404" y2="225.17000000000002" stroke="#5a5a5a" stroke-width="1.1"/>
<text x="396.9" y="230.5" font-size="13.5" text-anchor="end" >-400</text>
<line x1="402.0" y1="25.684999999999974" x2="404" y2="25.684999999999974" stroke="#5a5a5a" stroke-width="1"/>
<line x1="402.0" y1="61.954999999999984" x2="404" y2="61.954999999999984" stroke="#5a5a5a" stroke-width="1"/>
<line x1="402.0" y1="98.22500000000001" x2="404" y2="98.22500000000001" stroke="#5a5a5a" stroke-width="1"/>
<line x1="402.0" y1="134.495" x2="404" y2="134.495" stroke="#5a5a5a" stroke-width="1"/>
<line x1="402.0" y1="170.76500000000001" x2="404" y2="170.76500000000001" stroke="#5a5a5a" stroke-width="1"/>
<line x1="402.0" y1="207.035" x2="404" y2="207.035" stroke="#5a5a5a" stroke-width="1"/>
<line x1="428.65" y1="225.2" x2="428.65" y2="228.79999999999998" stroke="#5a5a5a" stroke-width="1.1"/>
<text x="424.4" y="242.6" font-size="13.5" text-anchor="middle" >0</text>
<line x1="477.95" y1="225.2" x2="477.95" y2="228.79999999999998" stroke="#5a5a5a" stroke-width="1.1"/>
<text x="473.8" y="242.6" font-size="13.5" text-anchor="middle" >400</text>
<line x1="527.25" y1="225.2" x2="527.25" y2="228.79999999999998" stroke="#5a5a5a" stroke-width="1.1"/>
<text x="523" y="242.6" font-size="13.5" text-anchor="middle" >800</text>
<line x1="576.55" y1="225.2" x2="576.55" y2="228.79999999999998" stroke="#5a5a5a" stroke-width="1.1"/>
<text x="572.3" y="242.6" font-size="13.5" text-anchor="middle" >1200</text>
<line x1="625.8499999999999" y1="225.2" x2="625.8499999999999" y2="228.79999999999998" stroke="#5a5a5a" stroke-width="1.1"/>
<text x="621.6" y="242.6" font-size="13.5" text-anchor="middle" >1600</text>
<line x1="675.15" y1="225.2" x2="675.15" y2="228.79999999999998" stroke="#5a5a5a" stroke-width="1.1"/>
<text x="670.9" y="242.6" font-size="13.5" text-anchor="middle" >2000</text>
<line x1="453.29999999999995" y1="225.2" x2="453.29999999999995" y2="227.39999999999998" stroke="#5a5a5a" stroke-width="1"/>
<line x1="502.59999999999997" y1="225.2" x2="502.59999999999997" y2="227.39999999999998" stroke="#5a5a5a" stroke-width="1"/>
<line x1="551.9" y1="225.2" x2="551.9" y2="227.39999999999998" stroke="#5a5a5a" stroke-width="1"/>
<line x1="601.2" y1="225.2" x2="601.2" y2="227.39999999999998" stroke="#5a5a5a" stroke-width="1"/>
<line x1="650.5" y1="225.2" x2="650.5" y2="227.39999999999998" stroke="#5a5a5a" stroke-width="1"/>
<text x="409.4" y="32.7" font-size="23" text-anchor="start" >(b)</text>
<text transform="translate(362.7,175.5) rotate(-90)" font-size="18.9" letter-spacing="0.25">-<tspan font-style="italic">Z</tspan><tspan font-size="13.5" dy="4">img</tspan><tspan dy="-4"> (&#937; cm</tspan><tspan font-size="12.5" dy="-7.5">2</tspan><tspan dy="7.5">)</tspan></text>
<text x="498.2" y="261.2" font-size="18.6" letter-spacing="0.55">Z<tspan font-size="14" dy="3.8">re</tspan><tspan dy="-3.8">(&#937; cm</tspan><tspan font-size="12.5" dy="-7.5">2</tspan><tspan dy="7.5">)</tspan></text>
<rect x="567.5" y="11.9" width="5.0" height="5.0" fill="#000000"/>
<text x="583.6" y="17.5" font-size="10.4" text-anchor="start" >Blank</text>
<circle cx="570.0" cy="28.0" r="2.6" fill="#ff0000"/>
<text x="583.6" y="31.1" font-size="10.4" text-anchor="start" >0.5 g/L GUE</text>
<path d="M570.0,38.2L572.9,43.2L567.1,43.2Z" fill="#00ff00"/>
<text x="583.6" y="44.1" font-size="10.4" text-anchor="start" >1.0 g/L GUE</text>
<path d="M570.0,57.8L572.9,52.8L567.1,52.8Z" fill="#0000ff"/>
<text x="583.6" y="58.1" font-size="10.4" text-anchor="start" >2.0 g/L GUE</text>
<rect x="567.5" y="65.5" width="5.0" height="5.0" fill="#00ffff"/>
<text x="583.6" y="71.1" font-size="10.4" text-anchor="start" >2.5 g/L GUE</text>
<polyline points="432.0,189.0 434.0,183.0 437.0,177.0 441.0,172.0 446.0,168.5 455.0,165.0 462.0,161.5 472.0,160.0 480.0,160.5 490.0,162.0 500.0,165.0 510.0,170.0 517.0,175.0 521.0,181.0 522.5,187.0 521.0,193.0 516.0,198.0 508.0,201.5 500.0,202.5 494.0,201.5" fill="none" stroke="#000000" stroke-width="6.5" stroke-linejoin="round" stroke-linecap="round"/>
<rect x="430.0" y="186.4" width="5.2" height="5.2" fill="#000000"/>
<rect x="430.0" y="183.9" width="5.2" height="5.2" fill="#000000"/>
<rect x="430.9" y="182.1" width="5.2" height="5.2" fill="#000000"/>
<rect x="431.0" y="179.8" width="5.2" height="5.2" fill="#000000"/>
<rect x="431.8" y="178.6" width="5.2" height="5.2" fill="#000000"/>
<rect x="432.9" y="177.0" width="5.2" height="5.2" fill="#000000"/>
<rect x="433.9" y="174.8" width="5.2" height="5.2" fill="#000000"/>
<rect x="435.3" y="172.2" width="5.2" height="5.2" fill="#000000"/>
<rect x="437.3" y="170.8" width="5.2" height="5.2" fill="#000000"/>
<rect x="438.7" y="169.0" width="5.2" height="5.2" fill="#000000"/>
<rect x="440.4" y="168.0" width="5.2" height="5.2" fill="#000000"/>
<rect x="443.7" y="166.3" width="5.2" height="5.2" fill="#000000"/>
<rect x="445.9" y="164.5" width="5.2" height="5.2" fill="#000000"/>
<rect x="448.1" y="164.4" width="5.2" height="5.2" fill="#000000"/>
<rect x="450.1" y="163.8" width="5.2" height="5.2" fill="#000000"/>
<rect x="452.1" y="163.0" width="5.2" height="5.2" fill="#000000"/>
<rect x="455.0" y="160.6" width="5.2" height="5.2" fill="#000000"/>
<rect x="456.5" y="160.2" width="5.2" height="5.2" fill="#000000"/>
<rect x="459.8" y="158.4" width="5.2" height="5.2" fill="#000000"/>
<rect x="461.7" y="158.8" width="5.2" height="5.2" fill="#000000"/>
<rect x="464.0" y="158.6" width="5.2" height="5.2" fill="#000000"/>
<rect x="466.9" y="157.2" width="5.2" height="5.2" fill="#000000"/>
<rect x="469.2" y="157.5" width="5.2" height="5.2" fill="#000000"/>
<rect x="472.0" y="157.8" width="5.2" height="5.2" fill="#000000"/>
<rect x="474.3" y="158.1" width="5.2" height="5.2" fill="#000000"/>
<rect x="477.2" y="158.1" width="5.2" height="5.2" fill="#000000"/>
<rect x="480.1" y="158.2" width="5.2" height="5.2" fill="#000000"/>
<rect x="482.3" y="159.0" width="5.2" height="5.2" fill="#000000"/>
<rect x="485.4" y="159.4" width="5.2" height="5.2" fill="#000000"/>
<rect x="487.5" y="159.2" width="5.2" height="5.2" fill="#000000"/>
<rect x="489.4" y="160.7" width="5.2" height="5.2" fill="#000000"/>
<rect x="492.6" y="161.3" width="5.2" height="5.2" fill="#000000"/>
<rect x="494.7" y="161.8" width="5.2" height="5.2" fill="#000000"/>
<rect x="498.0" y="162.8" width="5.2" height="5.2" fill="#000000"/>
<rect x="500.0" y="163.4" width="5.2" height="5.2" fill="#000000"/>
<rect x="502.3" y="165.4" width="5.2" height="5.2" fill="#000000"/>
<rect x="504.8" y="166.4" width="5.2" height="5.2" fill="#000000"/>
<rect x="507.5" y="167.9" width="5.2" height="5.2" fill="#000000"/>
<rect x="510.1" y="168.8" width="5.2" height="5.2" fill="#000000"/>
<rect x="511.5" y="170.4" width="5.2" height="5.2" fill="#000000"/>
<rect x="514.3" y="172.5" width="5.2" height="5.2" fill="#000000"/>
<rect x="516.1" y="174.9" width="5.2" height="5.2" fill="#000000"/>
<rect x="516.5" y="176.8" width="5.2" height="5.2" fill="#000000"/>
<rect x="518.8" y="178.8" width="5.2" height="5.2" fill="#000000"/>
<rect x="519.2" y="181.1" width="5.2" height="5.2" fill="#000000"/>
<rect x="520.3" y="184.8" width="5.2" height="5.2" fill="#000000"/>
<rect x="519.4" y="187.9" width="5.2" height="5.2" fill="#000000"/>
<rect x="518.2" y="189.9" width="5.2" height="5.2" fill="#000000"/>
<rect x="516.8" y="192.4" width="5.2" height="5.2" fill="#000000"/>
<rect x="514.7" y="194.0" width="5.2" height="5.2" fill="#000000"/>
<rect x="513.9" y="195.1" width="5.2" height="5.2" fill="#000000"/>
<rect x="510.9" y="196.8" width="5.2" height="5.2" fill="#000000"/>
<rect x="508.0" y="197.4" width="5.2" height="5.2" fill="#000000"/>
<rect x="505.1" y="199.2" width="5.2" height="5.2" fill="#000000"/>
<rect x="503.1" y="199.2" width="5.2" height="5.2" fill="#000000"/>
<rect x="499.6" y="199.9" width="5.2" height="5.2" fill="#000000"/>
<rect x="497.7" y="199.6" width="5.2" height="5.2" fill="#000000"/>
<rect x="494.5" y="199.9" width="5.2" height="5.2" fill="#000000"/>
<rect x="491.9" y="198.9" width="5.2" height="5.2" fill="#000000"/>
<circle cx="433.0" cy="189.0" r="2.8" fill="#ff0000"/>
<circle cx="436.0" cy="180.0" r="2.8" fill="#ff0000"/>
<circle cx="440.3" cy="161.3" r="2.8" fill="#ff0000"/>
<circle cx="447.0" cy="157.0" r="2.8" fill="#ff0000"/>
<circle cx="468.9" cy="155.7" r="2.8" fill="#ff0000"/>
<circle cx="467.9" cy="147.5" r="2.8" fill="#ff0000"/>
<circle cx="476.1" cy="144.4" r="2.8" fill="#ff0000"/>
<circle cx="486.3" cy="143.4" r="2.8" fill="#ff0000"/>
<circle cx="497.4" cy="145.6" r="2.7" fill="#ff0000"/>
<circle cx="500.6" cy="146.5" r="2.7" fill="#ff0000"/>
<circle cx="504.4" cy="148.8" r="2.7" fill="#ff0000"/>
<circle cx="508.4" cy="150.0" r="2.7" fill="#ff0000"/>
<circle cx="512.2" cy="150.5" r="2.7" fill="#ff0000"/>
<circle cx="515.5" cy="150.4" r="2.7" fill="#ff0000"/>
<circle cx="520.6" cy="151.5" r="2.7" fill="#ff0000"/>
<circle cx="524.1" cy="153.8" r="2.7" fill="#ff0000"/>
<circle cx="528.5" cy="154.7" r="2.7" fill="#ff0000"/>
<circle cx="531.5" cy="156.6" r="2.7" fill="#ff0000"/>
<circle cx="534.7" cy="157.7" r="2.7" fill="#ff0000"/>
<circle cx="535.6" cy="162.2" r="2.7" fill="#ff0000"/>
<circle cx="538.6" cy="164.3" r="2.7" fill="#ff0000"/>
<circle cx="539.7" cy="166.8" r="2.7" fill="#ff0000"/>
<circle cx="543.4" cy="168.7" r="2.7" fill="#ff0000"/>
<circle cx="547.0" cy="171.0" r="2.7" fill="#ff0000"/>
<circle cx="550.1" cy="172.9" r="2.7" fill="#ff0000"/>
<circle cx="551.3" cy="173.9" r="2.7" fill="#ff0000"/>
<circle cx="553.3" cy="176.6" r="2.7" fill="#ff0000"/>
<circle cx="555.1" cy="178.9" r="2.7" fill="#ff0000"/>
<circle cx="555.9" cy="184.5" r="2.7" fill="#ff0000"/>
<circle cx="555.7" cy="189.0" r="2.7" fill="#ff0000"/>
<circle cx="554.6" cy="191.4" r="2.7" fill="#ff0000"/>
<circle cx="552.2" cy="195.6" r="2.7" fill="#ff0000"/>
<circle cx="547.7" cy="199.0" r="2.7" fill="#ff0000"/>
<circle cx="544.2" cy="200.8" r="2.7" fill="#ff0000"/>
<circle cx="539.8" cy="202.7" r="2.7" fill="#ff0000"/>
<circle cx="536.7" cy="202.2" r="2.7" fill="#ff0000"/>
<circle cx="533.1" cy="202.1" r="2.7" fill="#ff0000"/>
<circle cx="530.7" cy="203.8" r="2.7" fill="#ff0000"/>
<circle cx="526.2" cy="202.3" r="2.7" fill="#ff0000"/>
<circle cx="522.9" cy="202.8" r="2.7" fill="#ff0000"/>
<circle cx="520.6" cy="203.6" r="2.7" fill="#ff0000"/>
<circle cx="516.7" cy="201.4" r="2.7" fill="#ff0000"/>
<circle cx="512.8" cy="201.6" r="2.7" fill="#ff0000"/>
<path d="M433.3,187.7L436.7,193.7L429.8,193.7Z" fill="#00ff00"/>
<path d="M433.1,183.0L436.6,189.0L429.7,189.0Z" fill="#00ff00"/>
<path d="M435.5,181.6L439.0,187.6L432.1,187.6Z" fill="#00ff00"/>
<path d="M436.9,177.3L440.3,183.3L433.4,183.3Z" fill="#00ff00"/>
<path d="M438.2,175.2L441.6,181.2L434.7,181.2Z" fill="#00ff00"/>
<path d="M438.5,172.3L442.0,178.3L435.1,178.3Z" fill="#00ff00"/>
<path d="M440.2,169.9L443.6,175.9L436.7,175.9Z" fill="#00ff00"/>
<path d="M442.0,168.0L445.4,174.0L438.5,174.0Z" fill="#00ff00"/>
<path d="M443.1,166.3L446.6,172.3L439.7,172.3Z" fill="#00ff00"/>
<path d="M445.7,164.4L449.1,170.4L442.2,170.4Z" fill="#00ff00"/>
<path d="M447.4,163.1L450.9,169.1L444.0,169.1Z" fill="#00ff00"/>
<path d="M447.2,162.5L450.7,168.5L443.8,168.5Z" fill="#00ff00"/>
<path d="M448.8,160.4L452.2,166.4L445.3,166.4Z" fill="#00ff00"/>
<path d="M451.2,158.3L454.7,164.3L447.8,164.3Z" fill="#00ff00"/>
<path d="M451.8,155.8L455.3,161.8L448.4,161.8Z" fill="#00ff00"/>
<path d="M453.8,155.3L457.2,161.3L450.3,161.3Z" fill="#00ff00"/>
<path d="M457.3,153.1L460.8,159.1L453.9,159.1Z" fill="#00ff00"/>
<path d="M458.6,151.0L462.1,157.0L455.2,157.0Z" fill="#00ff00"/>
<path d="M461.6,150.2L465.1,156.2L458.2,156.2Z" fill="#00ff00"/>
<path d="M463.6,148.5L467.0,154.5L460.1,154.5Z" fill="#00ff00"/>
<path d="M465.0,147.3L468.5,153.3L461.6,153.3Z" fill="#00ff00"/>
<path d="M468.3,147.3L471.8,153.3L464.9,153.3Z" fill="#00ff00"/>
<path d="M469.9,147.3L473.4,153.3L466.5,153.3Z" fill="#00ff00"/>
<path d="M472.9,145.7L476.3,151.7L469.4,151.7Z" fill="#00ff00"/>
<path d="M475.4,144.7L478.9,150.7L472.0,150.7Z" fill="#00ff00"/>
<path d="M479.5,144.4L483.0,150.4L476.1,150.4Z" fill="#00ff00"/>
<path d="M480.9,144.2L484.4,150.2L477.5,150.2Z" fill="#00ff00"/>
<path d="M483.9,144.5L487.4,150.5L480.5,150.5Z" fill="#00ff00"/>
<path d="M486.2,144.5L489.7,150.5L482.8,150.5Z" fill="#00ff00"/>
<path d="M488.8,144.2L492.3,150.2L485.4,150.2Z" fill="#00ff00"/>
<path d="M492.7,142.6L496.2,148.6L489.3,148.6Z" fill="#00ff00"/>
<path d="M450.4,161.5L453.9,167.5L447.0,167.5Z" fill="#00ff00"/>
<path d="M452.7,159.2L456.1,165.2L449.2,165.2Z" fill="#00ff00"/>
<path d="M455.6,159.0L459.1,165.0L452.2,165.0Z" fill="#00ff00"/>
<path d="M459.9,156.8L463.3,162.8L456.4,162.8Z" fill="#00ff00"/>
<path d="M460.8,153.9L464.3,159.9L457.4,159.9Z" fill="#00ff00"/>
<path d="M465.8,152.0L469.2,158.0L462.3,158.0Z" fill="#00ff00"/>
<path d="M468.4,151.2L471.9,157.2L465.0,157.2Z" fill="#00ff00"/>
<path d="M471.8,149.9L475.2,155.9L468.3,155.9Z" fill="#00ff00"/>
<path d="M474.1,150.0L477.6,156.0L470.7,156.0Z" fill="#00ff00"/>
<path d="M475.2,148.5L478.7,154.5L471.8,154.5Z" fill="#00ff00"/>
<path d="M479.6,149.3L483.1,155.3L476.2,155.3Z" fill="#00ff00"/>
<path d="M480.8,148.5L484.3,154.5L477.4,154.5Z" fill="#00ff00"/>
<path d="M485.3,147.5L488.7,153.5L481.8,153.5Z" fill="#00ff00"/>
<path d="M487.2,147.2L490.6,153.2L483.7,153.2Z" fill="#00ff00"/>
<path d="M488.9,148.5L492.4,154.5L485.5,154.5Z" fill="#00ff00"/>
<path d="M492.9,147.0L496.4,153.0L489.5,153.0Z" fill="#00ff00"/>
<path d="M497.5,139.2L500.9,145.2L494.0,145.2Z" fill="#00ff00"/>
<path d="M504.7,140.7L508.1,146.7L501.2,146.7Z" fill="#00ff00"/>
<path d="M506.6,137.9L510.1,143.9L503.2,143.9Z" fill="#00ff00"/>
<path d="M512.1,140.0L515.5,146.0L508.6,146.0Z" fill="#00ff00"/>
<path d="M516.7,138.4L520.1,144.4L513.2,144.4Z" fill="#00ff00"/>
<path d="M516.7,136.9L520.2,142.9L513.3,142.9Z" fill="#00ff00"/>
<path d="M523.7,140.6L527.1,146.6L520.2,146.6Z" fill="#00ff00"/>
<path d="M527.3,140.1L530.8,146.1L523.9,146.1Z" fill="#00ff00"/>
<path d="M530.6,143.6L534.0,149.6L527.1,149.6Z" fill="#00ff00"/>
<path d="M533.5,148.5L536.9,154.5L530.0,154.5Z" fill="#00ff00"/>
<path d="M534.1,145.1L537.6,151.1L530.7,151.1Z" fill="#00ff00"/>
<path d="M539.3,149.6L542.8,155.6L535.9,155.6Z" fill="#00ff00"/>
<path d="M541.8,150.1L545.3,156.1L538.4,156.1Z" fill="#00ff00"/>
<path d="M541.0,155.2L544.5,161.2L537.6,161.2Z" fill="#00ff00"/>
<path d="M545.5,152.8L548.9,158.8L542.0,158.8Z" fill="#00ff00"/>
<path d="M548.8,157.1L552.3,163.1L545.4,163.1Z" fill="#00ff00"/>
<path d="M550.3,158.3L553.8,164.3L546.9,164.3Z" fill="#00ff00"/>
<path d="M556.7,159.9L560.1,165.9L553.2,165.9Z" fill="#00ff00"/>
<path d="M558.4,162.7L561.9,168.7L555.0,168.7Z" fill="#00ff00"/>
<path d="M563.8,166.6L567.3,172.6L560.4,172.6Z" fill="#00ff00"/>
<path d="M562.1,168.6L565.6,174.6L558.7,174.6Z" fill="#00ff00"/>
<path d="M563.7,171.8L567.2,177.8L560.3,177.8Z" fill="#00ff00"/>
<path d="M563.0,175.6L566.5,181.6L559.6,181.6Z" fill="#00ff00"/>
<path d="M569.6,176.3L573.1,182.3L566.2,182.3Z" fill="#00ff00"/>
<path d="M565.7,180.2L569.2,186.2L562.3,186.2Z" fill="#00ff00"/>
<path d="M564.6,180.8L568.1,186.8L561.2,186.8Z" fill="#00ff00"/>
<path d="M566.4,185.0L569.9,191.0L563.0,191.0Z" fill="#00ff00"/>
<path d="M560.9,187.2L564.3,193.2L557.4,193.2Z" fill="#00ff00"/>
<path d="M560.5,194.4L564.0,200.4L557.1,200.4Z" fill="#00ff00"/>
<path d="M557.9,192.5L561.4,198.5L554.5,198.5Z" fill="#00ff00"/>
<path d="M560.7,195.6L564.1,201.6L557.2,201.6Z" fill="#00ff00"/>
<path d="M553.4,199.1L556.9,205.1L550.0,205.1Z" fill="#00ff00"/>
<path d="M553.6,199.7L557.1,205.7L550.2,205.7Z" fill="#00ff00"/>
<path d="M551.2,198.3L554.7,204.3L547.8,204.3Z" fill="#00ff00"/>
<path d="M548.9,202.7L552.3,208.7L545.4,208.7Z" fill="#00ff00"/>
<path d="M540.6,199.8L544.1,205.8L537.2,205.8Z" fill="#00ff00"/>
<path d="M540.0,202.7L543.4,208.7L536.5,208.7Z" fill="#00ff00"/>
<path d="M535.5,200.4L538.9,206.4L532.0,206.4Z" fill="#00ff00"/>
<path d="M533.0,200.4L536.5,206.4L529.6,206.4Z" fill="#00ff00"/>
<path d="M531.0,204.6L534.4,210.6L527.5,210.6Z" fill="#00ff00"/>
<path d="M525.1,202.8L528.5,208.8L521.6,208.8Z" fill="#00ff00"/>
<path d="M525.6,199.1L529.0,205.1L522.1,205.1Z" fill="#00ff00"/>
<path d="M523.0,202.5L526.4,208.5L519.5,208.5Z" fill="#00ff00"/>
<path d="M517.2,198.2L520.7,204.2L513.8,204.2Z" fill="#00ff00"/>
<path d="M516.8,197.6L520.3,203.6L513.4,203.6Z" fill="#00ff00"/>
<path d="M513.2,153.3L516.6,159.3L509.7,159.3Z" fill="#00ff00"/>
<path d="M518.7,152.7L522.2,158.7L515.3,158.7Z" fill="#00ff00"/>
<path d="M520.6,154.6L524.1,160.6L517.2,160.6Z" fill="#00ff00"/>
<path d="M525.4,159.0L528.9,165.0L522.0,165.0Z" fill="#00ff00"/>
<path d="M530.9,160.7L534.4,166.7L527.5,166.7Z" fill="#00ff00"/>
<path d="M535.0,161.6L538.4,167.6L531.5,167.6Z" fill="#00ff00"/>
<path d="M536.0,161.4L539.4,167.4L532.5,167.4Z" fill="#00ff00"/>
<path d="M543.6,164.3L547.1,170.3L540.2,170.3Z" fill="#00ff00"/>
<path d="M544.8,163.4L548.2,169.4L541.3,169.4Z" fill="#00ff00"/>
<path d="M549.1,165.8L552.5,171.8L545.6,171.8Z" fill="#00ff00"/>
<path d="M551.4,167.3L554.8,173.3L547.9,173.3Z" fill="#00ff00"/>
<path d="M553.7,171.7L557.2,177.7L550.3,177.7Z" fill="#00ff00"/>
<path d="M554.1,173.6L557.5,179.6L550.6,179.6Z" fill="#00ff00"/>
<path d="M559.9,179.5L563.3,185.5L556.4,185.5Z" fill="#00ff00"/>
<path d="M561.7,182.2L565.2,188.2L558.3,188.2Z" fill="#00ff00"/>
<path d="M560.2,186.6L563.7,192.6L556.8,192.6Z" fill="#00ff00"/>
<path d="M559.5,186.5L563.0,192.5L556.1,192.5Z" fill="#00ff00"/>
<path d="M557.6,190.8L561.0,196.8L554.1,196.8Z" fill="#00ff00"/>
<path d="M512.0,208.5L515.7,202.1L508.3,202.1Z" fill="#0000ff"/>
<path d="M518.0,207.5L521.7,201.1L514.3,201.1Z" fill="#0000ff"/>
<path d="M524.0,207.5L527.7,201.1L520.3,201.1Z" fill="#0000ff"/>
<path d="M530.0,209.5L533.7,203.1L526.3,203.1Z" fill="#0000ff"/>
<path d="M537.0,211.5L540.7,205.1L533.3,205.1Z" fill="#0000ff"/>
<path d="M547.0,215.5L550.7,209.1L543.3,209.1Z" fill="#0000ff"/>
<path d="M553.0,217.5L556.7,211.1L549.3,211.1Z" fill="#0000ff"/>
<path d="M559.0,221.5L562.7,215.1L555.3,215.1Z" fill="#0000ff"/>
<path d="M569.0,223.5L572.7,217.1L565.3,217.1Z" fill="#0000ff"/>
<path d="M576.0,221.5L579.7,215.1L572.3,215.1Z" fill="#0000ff"/>
<path d="M584.0,218.5L587.7,212.1L580.3,212.1Z" fill="#0000ff"/>
<path d="M593.0,216.5L596.7,210.1L589.3,210.1Z" fill="#0000ff"/>
<path d="M603.0,216.5L606.7,210.1L599.3,210.1Z" fill="#0000ff"/>
<path d="M611.0,210.5L614.7,204.1L607.3,204.1Z" fill="#0000ff"/>
<path d="M618.0,209.5L621.7,203.1L614.3,203.1Z" fill="#0000ff"/>
<path d="M624.0,204.5L627.7,198.1L620.3,198.1Z" fill="#0000ff"/>
<path d="M628.0,197.5L631.7,191.1L624.3,191.1Z" fill="#0000ff"/>
<path d="M625.0,193.5L628.7,187.1L621.3,187.1Z" fill="#0000ff"/>
<path d="M630.0,188.5L633.7,182.1L626.3,182.1Z" fill="#0000ff"/>
<path d="M630.0,184.5L633.7,178.1L626.3,178.1Z" fill="#0000ff"/>
<path d="M624.0,180.5L627.7,174.1L620.3,174.1Z" fill="#0000ff"/>
<path d="M619.0,174.5L622.7,168.1L615.3,168.1Z" fill="#0000ff"/>
<path d="M618.0,169.5L621.7,163.1L614.3,163.1Z" fill="#0000ff"/>
<path d="M611.0,165.5L614.7,159.1L607.3,159.1Z" fill="#0000ff"/>
<path d="M608.0,159.5L611.7,153.1L604.3,153.1Z" fill="#0000ff"/>
<path d="M602.0,162.5L605.7,156.1L598.3,156.1Z" fill="#0000ff"/>
<path d="M601.0,152.5L604.7,146.1L597.3,146.1Z" fill="#0000ff"/>
<path d="M600.0,146.5L603.7,140.1L596.3,140.1Z" fill="#0000ff"/>
<path d="M590.0,148.5L593.7,142.1L586.3,142.1Z" fill="#0000ff"/>
<path d="M584.0,150.5L587.7,144.1L580.3,144.1Z" fill="#0000ff"/>
<path d="M581.0,137.5L584.7,131.1L577.3,131.1Z" fill="#0000ff"/>
<path d="M576.0,141.5L579.7,135.1L572.3,135.1Z" fill="#0000ff"/>
<path d="M566.0,136.5L569.7,130.1L562.3,130.1Z" fill="#0000ff"/>
<path d="M555.0,140.5L558.7,134.1L551.3,134.1Z" fill="#0000ff"/>
<path d="M554.0,132.5L557.7,126.1L550.3,126.1Z" fill="#0000ff"/>
<path d="M550.0,137.5L553.7,131.1L546.3,131.1Z" fill="#0000ff"/>
<path d="M536.0,133.5L539.7,127.1L532.3,127.1Z" fill="#0000ff"/>
<path d="M524.0,134.5L527.7,128.1L520.3,128.1Z" fill="#0000ff"/>
<path d="M518.0,133.5L521.7,127.1L514.3,127.1Z" fill="#0000ff"/>
<path d="M512.0,133.5L515.7,127.1L508.3,127.1Z" fill="#0000ff"/>
<path d="M508.0,130.5L511.7,124.1L504.3,124.1Z" fill="#0000ff"/>
<path d="M504.0,130.5L507.7,124.1L500.3,124.1Z" fill="#0000ff"/>
<path d="M498.0,133.5L501.7,127.1L494.3,127.1Z" fill="#0000ff"/>
<path d="M494.0,133.5L497.7,127.1L490.3,127.1Z" fill="#0000ff"/>
<path d="M488.4,137.2L492.1,130.8L484.7,130.8Z" fill="#0000ff"/>
<path d="M512.6,207.6L516.2,201.4L509.1,201.4Z" fill="#0000ff"/>
<path d="M518.2,208.9L521.7,202.7L514.6,202.7Z" fill="#0000ff"/>
<path d="M524.4,206.5L528.0,200.3L520.9,200.3Z" fill="#0000ff"/>
<path d="M530.1,209.2L533.6,203.0L526.5,203.0Z" fill="#0000ff"/>
<path d="M538.6,210.6L542.2,204.4L535.1,204.4Z" fill="#0000ff"/>
<path d="M541.3,213.9L544.9,207.7L537.7,207.7Z" fill="#0000ff"/>
<path d="M545.6,215.7L549.2,209.5L542.1,209.5Z" fill="#0000ff"/>
<path d="M554.6,217.5L558.2,211.3L551.1,211.3Z" fill="#0000ff"/>
<path d="M558.2,221.3L561.7,215.1L554.6,215.1Z" fill="#0000ff"/>
<path d="M564.1,221.1L567.7,214.9L560.6,214.9Z" fill="#0000ff"/>
<path d="M567.6,222.1L571.2,215.9L564.1,215.9Z" fill="#0000ff"/>
<path d="M575.3,221.1L578.8,214.9L571.7,214.9Z" fill="#0000ff"/>
<path d="M583.2,217.5L586.8,211.3L579.7,211.3Z" fill="#0000ff"/>
<path d="M587.0,217.6L590.6,211.4L583.5,211.4Z" fill="#0000ff"/>
<path d="M594.2,216.8L597.8,210.6L590.7,210.6Z" fill="#0000ff"/>
<path d="M598.3,217.0L601.8,210.8L594.7,210.8Z" fill="#0000ff"/>
<path d="M601.9,217.2L605.5,211.0L598.4,211.0Z" fill="#0000ff"/>
<path d="M606.9,213.6L610.4,207.4L603.3,207.4Z" fill="#0000ff"/>
<path d="M611.4,210.3L615.0,204.1L607.8,204.1Z" fill="#0000ff"/>
<path d="M617.3,208.5L620.9,202.3L613.8,202.3Z" fill="#0000ff"/>
<path d="M623.0,204.5L626.6,198.3L619.4,198.3Z" fill="#0000ff"/>
<path d="M627.6,197.7L631.1,191.5L624.0,191.5Z" fill="#0000ff"/>
<path d="M623.2,192.9L626.8,186.7L619.7,186.7Z" fill="#0000ff"/>
<path d="M631.3,187.5L634.9,181.3L627.7,181.3Z" fill="#0000ff"/>
<path d="M630.2,184.4L633.8,178.2L626.6,178.2Z" fill="#0000ff"/>
<path d="M623.2,182.2L626.8,176.0L619.7,176.0Z" fill="#0000ff"/>
<path d="M618.3,175.4L621.8,169.2L614.7,169.2Z" fill="#0000ff"/>
<path d="M616.8,167.9L620.3,161.7L613.2,161.7Z" fill="#0000ff"/>
<path d="M612.3,165.2L615.9,159.0L608.8,159.0Z" fill="#0000ff"/>
<path d="M606.4,159.0L610.0,152.8L602.9,152.8Z" fill="#0000ff"/>
<path d="M601.8,163.3L605.3,157.1L598.2,157.1Z" fill="#0000ff"/>
<path d="M600.1,156.4L603.7,150.2L596.5,150.2Z" fill="#0000ff"/>
<path d="M602.7,153.3L606.2,147.1L599.1,147.1Z" fill="#0000ff"/>
<path d="M598.8,145.8L602.3,139.6L595.2,139.6Z" fill="#0000ff"/>
<path d="M594.5,148.0L598.0,141.8L590.9,141.8Z" fill="#0000ff"/>
<path d="M590.4,149.7L594.0,143.5L586.9,143.5Z" fill="#0000ff"/>
<path d="M585.2,150.5L588.7,144.3L581.6,144.3Z" fill="#0000ff"/>
<path d="M583.4,144.8L586.9,138.6L579.8,138.6Z" fill="#0000ff"/>
<path d="M581.9,137.3L585.5,131.1L578.4,131.1Z" fill="#0000ff"/>
<path d="M577.0,142.2L580.6,136.0L573.5,136.0Z" fill="#0000ff"/>
<path d="M572.5,137.6L576.1,131.4L568.9,131.4Z" fill="#0000ff"/>
<path d="M567.3,134.6L570.9,128.4L563.8,128.4Z" fill="#0000ff"/>
<path d="M561.5,138.7L565.0,132.5L557.9,132.5Z" fill="#0000ff"/>
<path d="M555.0,142.1L558.6,135.9L551.4,135.9Z" fill="#0000ff"/>
<path d="M554.3,132.1L557.8,125.9L550.7,125.9Z" fill="#0000ff"/>
<path d="M551.0,138.8L554.6,132.6L547.5,132.6Z" fill="#0000ff"/>
<path d="M460.8,151.0L464.5,144.6L457.1,144.6Z" fill="#0000ff"/>
<path d="M468.9,144.8L472.6,138.4L465.2,138.4Z" fill="#0000ff"/>
<path d="M473.0,143.5L476.7,137.1L469.3,137.1Z" fill="#0000ff"/>
<path d="M478.1,140.3L481.8,133.9L474.4,133.9Z" fill="#0000ff"/>
<path d="M483.0,138.5L486.7,132.1L479.3,132.1Z" fill="#0000ff"/>
<path d="M488.4,137.2L492.1,130.8L484.7,130.8Z" fill="#0000ff"/>
<path d="M455.2,152.3L458.9,145.9L451.5,145.9Z" fill="#0000ff"/>
<path d="M452.7,153.2L456.4,146.8L449.0,146.8Z" fill="#0000ff"/>
<path d="M450.9,153.7L454.5,147.3L447.2,147.3Z" fill="#0000ff"/>
<path d="M447.8,156.7L451.5,150.3L444.1,150.3Z" fill="#0000ff"/>
<path d="M445.2,158.9L448.9,152.5L441.5,152.5Z" fill="#0000ff"/>
<path d="M444.2,162.1L447.8,155.7L440.5,155.7Z" fill="#0000ff"/>
<path d="M442.0,163.9L445.7,157.5L438.3,157.5Z" fill="#0000ff"/>
<path d="M439.8,166.0L443.5,159.6L436.1,159.6Z" fill="#0000ff"/>
<path d="M437.8,168.5L441.5,162.1L434.2,162.1Z" fill="#0000ff"/>
<path d="M436.6,169.9L440.3,163.5L433.0,163.5Z" fill="#0000ff"/>
<path d="M435.5,172.7L439.2,166.3L431.8,166.3Z" fill="#0000ff"/>
<path d="M433.7,176.1L437.4,169.7L430.1,169.7Z" fill="#0000ff"/>
<path d="M433.4,178.0L437.0,171.6L429.7,171.6Z" fill="#0000ff"/>
<path d="M431.9,182.2L435.6,175.8L428.3,175.8Z" fill="#0000ff"/>
<path d="M430.7,183.8L434.4,177.4L427.0,177.4Z" fill="#0000ff"/>
<path d="M431.4,187.5L435.1,181.1L427.8,181.1Z" fill="#0000ff"/>
<path d="M431.8,191.0L435.5,184.6L428.2,184.6Z" fill="#0000ff"/>
<path d="M431.1,194.3L434.7,187.9L427.4,187.9Z" fill="#0000ff"/>
<polyline points="430.1,189.4 431.0,185.0 432.2,180.2 434.0,176.5 436.2,173.0 441.3,167.9 448.5,164.9 455.7,163.3 463.8,161.8 472.0,161.3 480.2,162.8 488.4,164.9 495.0,165.9 500.0,167.5 505.0,171.0 510.0,176.0 513.0,183.0 513.0,190.0 510.0,194.0 504.0,197.0 496.0,198.0 488.0,196.0 485.0,195.0" fill="none" stroke="#00ffff" stroke-width="6.2" stroke-linejoin="round" stroke-linecap="round"/>
<rect x="427.5" y="186.8" width="5.2" height="5.2" fill="#00ffff"/>
<rect x="428.8" y="182.2" width="5.2" height="5.2" fill="#00ffff"/>
<rect x="428.7" y="180.2" width="5.2" height="5.2" fill="#00ffff"/>
<rect x="429.3" y="178.5" width="5.2" height="5.2" fill="#00ffff"/>
<rect x="431.8" y="174.0" width="5.2" height="5.2" fill="#00ffff"/>
<rect x="432.8" y="170.1" width="5.2" height="5.2" fill="#00ffff"/>
<rect x="436.0" y="168.0" width="5.2" height="5.2" fill="#00ffff"/>
<rect x="438.8" y="166.1" width="5.2" height="5.2" fill="#00ffff"/>
<rect x="442.0" y="164.3" width="5.2" height="5.2" fill="#00ffff"/>
<rect x="443.4" y="163.5" width="5.2" height="5.2" fill="#00ffff"/>
<rect x="446.9" y="162.0" width="5.2" height="5.2" fill="#00ffff"/>
<rect x="449.6" y="162.1" width="5.2" height="5.2" fill="#00ffff"/>
<rect x="452.4" y="160.3" width="5.2" height="5.2" fill="#00ffff"/>
<rect x="456.8" y="160.9" width="5.2" height="5.2" fill="#00ffff"/>
<rect x="458.5" y="158.9" width="5.2" height="5.2" fill="#00ffff"/>
<rect x="462.0" y="159.6" width="5.2" height="5.2" fill="#00ffff"/>
<rect x="464.6" y="160.0" width="5.2" height="5.2" fill="#00ffff"/>
<rect x="467.4" y="158.7" width="5.2" height="5.2" fill="#00ffff"/>
<rect x="468.7" y="158.3" width="5.2" height="5.2" fill="#00ffff"/>
<rect x="472.2" y="159.2" width="5.2" height="5.2" fill="#00ffff"/>
<rect x="474.2" y="159.1" width="5.2" height="5.2" fill="#00ffff"/>
<rect x="477.9" y="160.4" width="5.2" height="5.2" fill="#00ffff"/>
<rect x="480.0" y="161.9" width="5.2" height="5.2" fill="#00ffff"/>
<rect x="483.3" y="160.7" width="5.2" height="5.2" fill="#00ffff"/>
<rect x="485.6" y="162.9" width="5.2" height="5.2" fill="#00ffff"/>
<rect x="488.7" y="163.2" width="5.2" height="5.2" fill="#00ffff"/>
<rect x="491.4" y="162.9" width="5.2" height="5.2" fill="#00ffff"/>
<rect x="495.6" y="164.3" width="5.2" height="5.2" fill="#00ffff"/>
<rect x="497.7" y="164.3" width="5.2" height="5.2" fill="#00ffff"/>
<rect x="499.9" y="166.8" width="5.2" height="5.2" fill="#00ffff"/>
<rect x="501.9" y="168.7" width="5.2" height="5.2" fill="#00ffff"/>
<rect x="505.0" y="171.9" width="5.2" height="5.2" fill="#00ffff"/>
<rect x="507.5" y="173.2" width="5.2" height="5.2" fill="#00ffff"/>
<rect x="507.6" y="175.0" width="5.2" height="5.2" fill="#00ffff"/>
<rect x="509.9" y="177.3" width="5.2" height="5.2" fill="#00ffff"/>
<rect x="509.6" y="179.7" width="5.2" height="5.2" fill="#00ffff"/>
<rect x="510.4" y="184.5" width="5.2" height="5.2" fill="#00ffff"/>
<rect x="510.6" y="188.0" width="5.2" height="5.2" fill="#00ffff"/>
<rect x="508.0" y="188.4" width="5.2" height="5.2" fill="#00ffff"/>
<rect x="507.9" y="191.0" width="5.2" height="5.2" fill="#00ffff"/>
<rect x="504.8" y="192.6" width="5.2" height="5.2" fill="#00ffff"/>
<rect x="500.7" y="193.9" width="5.2" height="5.2" fill="#00ffff"/>
<rect x="497.9" y="195.5" width="5.2" height="5.2" fill="#00ffff"/>
<rect x="496.2" y="194.8" width="5.2" height="5.2" fill="#00ffff"/>
<rect x="493.3" y="195.2" width="5.2" height="5.2" fill="#00ffff"/>
<rect x="489.8" y="195.5" width="5.2" height="5.2" fill="#00ffff"/>
<rect x="488.2" y="195.0" width="5.2" height="5.2" fill="#00ffff"/>
<rect x="485.3" y="193.6" width="5.2" height="5.2" fill="#00ffff"/>
<rect x="481.9" y="191.5" width="5.2" height="5.2" fill="#00ffff"/>
<line x1="496" y1="143" x2="485.6" y2="103.6" stroke="#ff0000" stroke-width="1.4"/>
<path d="M484.0,97.4L489.7,103.6L482.1,105.5Z" fill="#ff0000"/>
<line x1="504" y1="143" x2="510.9" y2="101.3" stroke="#66ee33" stroke-width="1.4"/>
<path d="M512.0,95.0L514.6,102.9L506.9,101.7Z" fill="#66ee33"/>
<line x1="479" y1="161" x2="466.2" y2="127.0" stroke="#000000" stroke-width="1.4"/>
<path d="M464.0,121.0L470.2,126.6L462.9,129.3Z" fill="#000000"/>
<line x1="469" y1="158" x2="440.3" y2="138.6" stroke="#00ffff" stroke-width="1.4"/>
<path d="M435.0,135.0L443.3,135.9L438.9,142.4Z" fill="#00ffff"/>
<line x1="535.8" y1="124.5" x2="556.0" y2="112.6" stroke="#1010c0" stroke-width="1.4"/>
<path d="M561.5,109.3L557.1,116.4L553.1,109.7Z" fill="#1010c0"/>
<text x="443" y="94" font-size="12.6" text-anchor="start" >25.68Hz</text>
<text x="496" y="91" font-size="12.6" text-anchor="start" >22.98Hz</text>
<text x="435" y="116.6" font-size="12.6" text-anchor="start" >37.87Hz</text>
<text x="405.4" y="133" font-size="12.6" text-anchor="start" >40.03Hz</text>
<text x="565.6" y="107" font-size="12.6" text-anchor="start" >16.47Hz</text>
<rect x="404.6" y="286" width="271.5" height="217.5" fill="none" stroke="#5a5a5a" stroke-width="1.1"/>
<line x1="400.20000000000005" y1="302.0" x2="404.6" y2="302.0" stroke="#5a5a5a" stroke-width="1.1"/>
<text x="397.5" y="305.6" font-size="13.5" text-anchor="end" >2000</text>
<line x1="400.20000000000005" y1="334.2" x2="404.6" y2="334.2" stroke="#5a5a5a" stroke-width="1.1"/>
<text x="397.5" y="337.8" font-size="13.5" text-anchor="end" >1600</text>
<line x1="400.20000000000005" y1="366.4" x2="404.6" y2="366.4" stroke="#5a5a5a" stroke-width="1.1"/>
<text x="397.5" y="370" font-size="13.5" text-anchor="end" >1200</text>
<line x1="400.20000000000005" y1="398.6" x2="404.6" y2="398.6" stroke="#5a5a5a" stroke-width="1.1"/>
<text x="397.5" y="402.2" font-size="13.5" text-anchor="end" >800</text>
<line x1="400.20000000000005" y1="430.8" x2="404.6" y2="430.8" stroke="#5a5a5a" stroke-width="1.1"/>
<text x="397.5" y="434.4" font-size="13.5" text-anchor="end" >400</text>
<line x1="400.20000000000005" y1="463.0" x2="404.6" y2="463.0" stroke="#5a5a5a" stroke-width="1.1"/>
<text x="397.5" y="466.6" font-size="13.5" text-anchor="end" >0</text>
<line x1="400.20000000000005" y1="495.2" x2="404.6" y2="495.2" stroke="#5a5a5a" stroke-width="1.1"/>
<text x="397.5" y="498.8" font-size="13.5" text-anchor="end" >-400</text>
<line x1="402.6" y1="318.1" x2="404.6" y2="318.1" stroke="#5a5a5a" stroke-width="1"/>
<line x1="402.6" y1="350.29999999999995" x2="404.6" y2="350.29999999999995" stroke="#5a5a5a" stroke-width="1"/>
<line x1="402.6" y1="382.5" x2="404.6" y2="382.5" stroke="#5a5a5a" stroke-width="1"/>
<line x1="402.6" y1="414.7" x2="404.6" y2="414.7" stroke="#5a5a5a" stroke-width="1"/>
<line x1="402.6" y1="446.9" x2="404.6" y2="446.9" stroke="#5a5a5a" stroke-width="1"/>
<line x1="402.6" y1="479.1" x2="404.6" y2="479.1" stroke="#5a5a5a" stroke-width="1"/>
<line x1="427.8" y1="503.5" x2="427.8" y2="507.1" stroke="#5a5a5a" stroke-width="1.1"/>
<text x="424.8" y="521" font-size="13.5" text-anchor="middle" >0</text>
<line x1="472.8" y1="503.5" x2="472.8" y2="507.1" stroke="#5a5a5a" stroke-width="1.1"/>
<text x="469.8" y="521" font-size="13.5" text-anchor="middle" >400</text>
<line x1="517.8" y1="503.5" x2="517.8" y2="507.1" stroke="#5a5a5a" stroke-width="1.1"/>
<text x="514.8" y="521" font-size="13.5" text-anchor="middle" >800</text>
<line x1="562.8" y1="503.5" x2="562.8" y2="507.1" stroke="#5a5a5a" stroke-width="1.1"/>
<text x="559.8" y="521" font-size="13.5" text-anchor="middle" >1200</text>
<line x1="607.8" y1="503.5" x2="607.8" y2="507.1" stroke="#5a5a5a" stroke-width="1.1"/>
<text x="604.8" y="521" font-size="13.5" text-anchor="middle" >1600</text>
<line x1="652.8" y1="503.5" x2="652.8" y2="507.1" stroke="#5a5a5a" stroke-width="1.1"/>
<text x="649.8" y="521" font-size="13.5" text-anchor="middle" >2000</text>
<line x1="450.3" y1="503.5" x2="450.3" y2="505.7" stroke="#5a5a5a" stroke-width="1"/>
<line x1="495.3" y1="503.5" x2="495.3" y2="505.7" stroke="#5a5a5a" stroke-width="1"/>
<line x1="540.3" y1="503.5" x2="540.3" y2="505.7" stroke="#5a5a5a" stroke-width="1"/>
<line x1="585.3" y1="503.5" x2="585.3" y2="505.7" stroke="#5a5a5a" stroke-width="1"/>
<line x1="630.3" y1="503.5" x2="630.3" y2="505.7" stroke="#5a5a5a" stroke-width="1"/>
<text x="415.8" y="311.9" font-size="23" text-anchor="start" >(d)</text>
<text transform="translate(362.3,449) rotate(-90)" font-size="18.9" letter-spacing="0.25">-<tspan font-style="italic">Z</tspan><tspan font-size="13.5" dy="4">img</tspan><tspan dy="-4"> (&#937; cm</tspan><tspan font-size="12.5" dy="-7.5">2</tspan><tspan dy="7.5">)</tspan></text>
<text x="497.6" y="544.6" font-size="18.6" letter-spacing="0.35">Z<tspan font-size="14" dy="3.8">re</tspan><tspan dy="-3.8"> (&#937; cm</tspan><tspan font-size="12.5" dy="-7.5">2</tspan><tspan dy="7.5">)</tspan></text>
<rect x="575.1" y="290.1" width="5.0" height="5.0" fill="#000000"/>
<text x="590" y="295.7" font-size="10.5" text-anchor="start" >Blank</text>
<circle cx="577.6" cy="305.6" r="2.6" fill="#ff0000"/>
<text x="590" y="308.7" font-size="10.5" text-anchor="start" >0.5 g/L PDE</text>
<path d="M577.6,315.2L580.5,320.2L574.7,320.2Z" fill="#00ff00"/>
<text x="590" y="321.1" font-size="10.5" text-anchor="start" >1.0 g/L PDE</text>
<path d="M577.6,334.4L580.5,329.4L574.7,329.4Z" fill="#0000ff"/>
<text x="590" y="334.7" font-size="10.5" text-anchor="start" >2.0 g/L PDE</text>
<rect x="575.1" y="341.9" width="5.0" height="5.0" fill="#00ffff"/>
<text x="590" y="347.5" font-size="10.5" text-anchor="start" >2.5 g/L PDE</text>
<polyline points="433.0,463.0 435.5,457.0 440.0,449.0 447.5,443.5 455.7,441.0 465.9,439.5 476.1,439.5 486.3,442.0 492.4,444.5 503.0,449.0 511.0,456.0 513.0,464.0 509.0,472.0 499.0,475.0 487.0,472.0 484.0,470.0" fill="none" stroke="#000000" stroke-width="7" stroke-linejoin="round" stroke-linecap="round"/>
<rect x="430.9" y="460.8" width="5.2" height="5.2" fill="#000000"/>
<rect x="431.0" y="458.9" width="5.2" height="5.2" fill="#000000"/>
<rect x="432.4" y="456.2" width="5.2" height="5.2" fill="#000000"/>
<rect x="433.0" y="455.0" width="5.2" height="5.2" fill="#000000"/>
<rect x="434.0" y="452.9" width="5.2" height="5.2" fill="#000000"/>
<rect x="434.8" y="450.3" width="5.2" height="5.2" fill="#000000"/>
<rect x="436.5" y="448.1" width="5.2" height="5.2" fill="#000000"/>
<rect x="437.2" y="446.9" width="5.2" height="5.2" fill="#000000"/>
<rect x="439.3" y="445.4" width="5.2" height="5.2" fill="#000000"/>
<rect x="440.8" y="443.3" width="5.2" height="5.2" fill="#000000"/>
<rect x="442.9" y="441.9" width="5.2" height="5.2" fill="#000000"/>
<rect x="445.5" y="440.6" width="5.2" height="5.2" fill="#000000"/>
<rect x="447.7" y="439.6" width="5.2" height="5.2" fill="#000000"/>
<rect x="450.4" y="439.1" width="5.2" height="5.2" fill="#000000"/>
<rect x="453.0" y="437.9" width="5.2" height="5.2" fill="#000000"/>
<rect x="455.2" y="438.4" width="5.2" height="5.2" fill="#000000"/>
<rect x="458.0" y="437.3" width="5.2" height="5.2" fill="#000000"/>
<rect x="460.4" y="437.0" width="5.2" height="5.2" fill="#000000"/>
<rect x="463.0" y="436.3" width="5.2" height="5.2" fill="#000000"/>
<rect x="466.0" y="436.7" width="5.2" height="5.2" fill="#000000"/>
<rect x="468.0" y="437.1" width="5.2" height="5.2" fill="#000000"/>
<rect x="470.5" y="436.6" width="5.2" height="5.2" fill="#000000"/>
<rect x="473.9" y="436.5" width="5.2" height="5.2" fill="#000000"/>
<rect x="476.0" y="437.9" width="5.2" height="5.2" fill="#000000"/>
<rect x="479.0" y="437.7" width="5.2" height="5.2" fill="#000000"/>
<rect x="481.0" y="439.0" width="5.2" height="5.2" fill="#000000"/>
<rect x="483.6" y="440.0" width="5.2" height="5.2" fill="#000000"/>
<rect x="485.4" y="440.8" width="5.2" height="5.2" fill="#000000"/>
<rect x="487.8" y="440.7" width="5.2" height="5.2" fill="#000000"/>
<rect x="489.7" y="441.5" width="5.2" height="5.2" fill="#000000"/>
<rect x="492.2" y="442.5" width="5.2" height="5.2" fill="#000000"/>
<rect x="494.5" y="443.8" width="5.2" height="5.2" fill="#000000"/>
<rect x="496.0" y="444.3" width="5.2" height="5.2" fill="#000000"/>
<rect x="498.4" y="445.2" width="5.2" height="5.2" fill="#000000"/>
<rect x="500.8" y="445.9" width="5.2" height="5.2" fill="#000000"/>
<rect x="502.4" y="448.2" width="5.2" height="5.2" fill="#000000"/>
<rect x="504.1" y="450.2" width="5.2" height="5.2" fill="#000000"/>
<rect x="506.3" y="451.8" width="5.2" height="5.2" fill="#000000"/>
<rect x="508.5" y="453.2" width="5.2" height="5.2" fill="#000000"/>
<rect x="508.9" y="455.6" width="5.2" height="5.2" fill="#000000"/>
<rect x="509.3" y="459.2" width="5.2" height="5.2" fill="#000000"/>
<rect x="510.2" y="461.6" width="5.2" height="5.2" fill="#000000"/>
<rect x="508.9" y="463.5" width="5.2" height="5.2" fill="#000000"/>
<rect x="508.2" y="465.4" width="5.2" height="5.2" fill="#000000"/>
<rect x="507.2" y="466.9" width="5.2" height="5.2" fill="#000000"/>
<rect x="506.2" y="469.1" width="5.2" height="5.2" fill="#000000"/>
<rect x="503.5" y="470.4" width="5.2" height="5.2" fill="#000000"/>
<rect x="501.1" y="470.8" width="5.2" height="5.2" fill="#000000"/>
<rect x="499.4" y="472.0" width="5.2" height="5.2" fill="#000000"/>
<rect x="496.9" y="472.8" width="5.2" height="5.2" fill="#000000"/>
<rect x="493.6" y="471.5" width="5.2" height="5.2" fill="#000000"/>
<rect x="491.0" y="471.4" width="5.2" height="5.2" fill="#000000"/>
<rect x="489.4" y="470.4" width="5.2" height="5.2" fill="#000000"/>
<rect x="486.7" y="470.2" width="5.2" height="5.2" fill="#000000"/>
<rect x="484.6" y="469.1" width="5.2" height="5.2" fill="#000000"/>
<rect x="481.8" y="467.2" width="5.2" height="5.2" fill="#000000"/>
<polyline points="522.0,425.5 530.0,428.0 540.2,432.0 550.4,437.0 560.7,443.5 568.8,450.9 572.9,460.1 570.9,468.2 564.7,475.4 555.5,479.5 545.3,481.5 535.1,482.6 527.0,481.0 519.0,478.0 513.0,474.0" fill="none" stroke="#ff0000" stroke-width="3" stroke-linejoin="round" stroke-linecap="round"/>
<circle cx="431.2" cy="461.5" r="2.9" fill="#ff0000"/>
<circle cx="432.1" cy="458.0" r="2.9" fill="#ff0000"/>
<circle cx="434.7" cy="453.0" r="2.9" fill="#ff0000"/>
<circle cx="435.3" cy="447.3" r="2.9" fill="#ff0000"/>
<circle cx="437.5" cy="444.2" r="2.9" fill="#ff0000"/>
<circle cx="439.7" cy="441.1" r="2.9" fill="#ff0000"/>
<circle cx="441.3" cy="437.7" r="2.9" fill="#ff0000"/>
<circle cx="444.9" cy="434.8" r="2.9" fill="#ff0000"/>
<circle cx="447.9" cy="432.8" r="2.9" fill="#ff0000"/>
<circle cx="450.3" cy="429.6" r="2.9" fill="#ff0000"/>
<circle cx="454.9" cy="428.3" r="2.9" fill="#ff0000"/>
<circle cx="459.8" cy="425.2" r="2.9" fill="#ff0000"/>
<circle cx="464.5" cy="425.2" r="2.9" fill="#ff0000"/>
<circle cx="467.7" cy="422.8" r="2.9" fill="#ff0000"/>
<circle cx="473.0" cy="422.6" r="2.9" fill="#ff0000"/>
<circle cx="476.1" cy="420.9" r="2.9" fill="#ff0000"/>
<circle cx="479.7" cy="419.9" r="2.9" fill="#ff0000"/>
<circle cx="483.4" cy="418.2" r="2.9" fill="#ff0000"/>
<circle cx="488.3" cy="417.3" r="2.9" fill="#ff0000"/>
<circle cx="492.3" cy="418.3" r="2.9" fill="#ff0000"/>
<circle cx="497.1" cy="419.8" r="2.9" fill="#ff0000"/>
<circle cx="501.0" cy="419.3" r="2.9" fill="#ff0000"/>
<circle cx="506.2" cy="420.7" r="2.9" fill="#ff0000"/>
<circle cx="510.3" cy="422.0" r="2.9" fill="#ff0000"/>
<circle cx="514.1" cy="423.0" r="2.9" fill="#ff0000"/>
<circle cx="514.1" cy="422.4" r="3.2" fill="#ff0000"/>
<circle cx="515.2" cy="424.1" r="3.2" fill="#ff0000"/>
<circle cx="519.0" cy="424.5" r="3.2" fill="#ff0000"/>
<circle cx="523.2" cy="424.5" r="3.2" fill="#ff0000"/>
<circle cx="525.4" cy="425.1" r="3.2" fill="#ff0000"/>
<circle cx="527.9" cy="428.0" r="3.2" fill="#ff0000"/>
<circle cx="529.3" cy="428.1" r="3.2" fill="#ff0000"/>
<circle cx="533.9" cy="429.4" r="3.2" fill="#ff0000"/>
<circle cx="535.2" cy="429.3" r="3.2" fill="#ff0000"/>
<circle cx="536.4" cy="430.6" r="3.2" fill="#ff0000"/>
<circle cx="540.0" cy="431.2" r="3.2" fill="#ff0000"/>
<circle cx="542.2" cy="432.2" r="3.2" fill="#ff0000"/>
<circle cx="545.9" cy="435.0" r="3.2" fill="#ff0000"/>
<circle cx="547.1" cy="435.0" r="3.2" fill="#ff0000"/>
<circle cx="550.4" cy="436.8" r="3.2" fill="#ff0000"/>
<circle cx="553.7" cy="437.9" r="3.2" fill="#ff0000"/>
<circle cx="554.0" cy="440.7" r="3.2" fill="#ff0000"/>
<circle cx="555.6" cy="441.1" r="3.2" fill="#ff0000"/>
<circle cx="558.2" cy="443.1" r="3.2" fill="#ff0000"/>
<circle cx="560.8" cy="444.2" r="3.2" fill="#ff0000"/>
<circle cx="561.8" cy="445.8" r="3.2" fill="#ff0000"/>
<circle cx="565.0" cy="447.1" r="3.2" fill="#ff0000"/>
<circle cx="567.5" cy="450.0" r="3.2" fill="#ff0000"/>
<circle cx="567.7" cy="450.3" r="3.2" fill="#ff0000"/>
<circle cx="569.4" cy="452.4" r="3.2" fill="#ff0000"/>
<circle cx="569.6" cy="454.9" r="3.2" fill="#ff0000"/>
<circle cx="571.0" cy="458.4" r="3.2" fill="#ff0000"/>
<circle cx="572.8" cy="459.0" r="3.2" fill="#ff0000"/>
<circle cx="571.7" cy="462.7" r="3.2" fill="#ff0000"/>
<circle cx="571.2" cy="464.6" r="3.2" fill="#ff0000"/>
<circle cx="569.7" cy="466.8" r="3.2" fill="#ff0000"/>
<circle cx="570.7" cy="470.7" r="3.2" fill="#ff0000"/>
<circle cx="566.6" cy="472.4" r="3.2" fill="#ff0000"/>
<circle cx="567.6" cy="473.8" r="3.2" fill="#ff0000"/>
<circle cx="563.6" cy="475.4" r="3.2" fill="#ff0000"/>
<circle cx="562.2" cy="475.6" r="3.2" fill="#ff0000"/>
<circle cx="560.2" cy="476.1" r="3.2" fill="#ff0000"/>
<circle cx="559.0" cy="478.9" r="3.2" fill="#ff0000"/>
<circle cx="555.9" cy="480.7" r="3.2" fill="#ff0000"/>
<circle cx="553.4" cy="479.3" r="3.2" fill="#ff0000"/>
<circle cx="549.7" cy="479.5" r="3.2" fill="#ff0000"/>
<circle cx="546.5" cy="481.8" r="3.2" fill="#ff0000"/>
<circle cx="546.3" cy="480.9" r="3.2" fill="#ff0000"/>
<circle cx="541.9" cy="482.2" r="3.2" fill="#ff0000"/>
<circle cx="541.2" cy="483.2" r="3.2" fill="#ff0000"/>
<circle cx="536.7" cy="483.1" r="3.2" fill="#ff0000"/>
<circle cx="536.0" cy="483.3" r="3.2" fill="#ff0000"/>
<circle cx="531.9" cy="481.2" r="3.2" fill="#ff0000"/>
<circle cx="530.6" cy="481.0" r="3.2" fill="#ff0000"/>
<circle cx="526.6" cy="481.1" r="3.2" fill="#ff0000"/>
<circle cx="524.0" cy="480.9" r="3.2" fill="#ff0000"/>
<circle cx="520.9" cy="477.7" r="3.2" fill="#ff0000"/>
<circle cx="519.2" cy="478.4" r="3.2" fill="#ff0000"/>
<circle cx="517.9" cy="477.2" r="3.2" fill="#ff0000"/>
<circle cx="516.1" cy="476.6" r="3.2" fill="#ff0000"/>
<circle cx="513.0" cy="474.0" r="3.2" fill="#ff0000"/>
<polyline points="493.5,416.0 503.0,416.5 512.0,417.0 520.0,418.0 531.0,419.5 540.2,422.3 550.4,425.0 560.7,430.3 570.9,438.6 581.1,445.8 588.2,455.0 591.3,464.2 589.3,472.3 584.2,478.5 576.0,482.6 565.8,484.6 555.5,485.6 545.3,486.6 538.0,486.5" fill="none" stroke="#00ff00" stroke-width="3" stroke-linejoin="round" stroke-linecap="round"/>
<path d="M430.0,456.2L433.4,462.0L426.7,462.0Z" fill="#00ff00"/>
<path d="M432.0,453.6L435.4,459.4L428.7,459.4Z" fill="#00ff00"/>
<path d="M433.1,451.9L436.5,457.7L429.8,457.7Z" fill="#00ff00"/>
<path d="M433.2,452.1L436.6,457.9L429.9,457.9Z" fill="#00ff00"/>
<path d="M433.1,447.5L436.4,453.3L429.7,453.3Z" fill="#00ff00"/>
<path d="M434.8,445.9L438.2,451.7L431.5,451.7Z" fill="#00ff00"/>
<path d="M436.6,443.4L440.0,449.2L433.3,449.2Z" fill="#00ff00"/>
<path d="M438.0,443.8L441.3,449.6L434.6,449.6Z" fill="#00ff00"/>
<path d="M438.8,440.6L442.1,446.4L435.5,446.4Z" fill="#00ff00"/>
<path d="M438.4,439.3L441.7,445.1L435.1,445.1Z" fill="#00ff00"/>
<path d="M440.0,436.6L443.4,442.4L436.7,442.4Z" fill="#00ff00"/>
<path d="M441.4,435.2L444.8,441.0L438.1,441.0Z" fill="#00ff00"/>
<path d="M444.3,434.8L447.6,440.6L440.9,440.6Z" fill="#00ff00"/>
<path d="M446.8,431.5L450.2,437.3L443.5,437.3Z" fill="#00ff00"/>
<path d="M447.0,430.8L450.4,436.6L443.7,436.6Z" fill="#00ff00"/>
<path d="M449.7,429.1L453.0,434.9L446.3,434.9Z" fill="#00ff00"/>
<path d="M450.2,426.9L453.5,432.7L446.9,432.7Z" fill="#00ff00"/>
<path d="M452.1,426.6L455.4,432.4L448.8,432.4Z" fill="#00ff00"/>
<path d="M455.5,426.5L458.8,432.3L452.1,432.3Z" fill="#00ff00"/>
<path d="M456.7,425.2L460.1,431.0L453.4,431.0Z" fill="#00ff00"/>
<path d="M458.7,423.4L462.0,429.2L455.4,429.2Z" fill="#00ff00"/>
<path d="M460.0,420.9L463.3,426.7L456.6,426.7Z" fill="#00ff00"/>
<path d="M461.3,421.6L464.6,427.4L458.0,427.4Z" fill="#00ff00"/>
<path d="M462.3,420.7L465.6,426.5L458.9,426.5Z" fill="#00ff00"/>
<path d="M466.1,419.6L469.5,425.4L462.8,425.4Z" fill="#00ff00"/>
<path d="M467.3,418.3L470.7,424.1L464.0,424.1Z" fill="#00ff00"/>
<path d="M468.5,419.1L471.9,424.9L465.2,424.9Z" fill="#00ff00"/>
<path d="M469.7,416.3L473.0,422.1L466.3,422.1Z" fill="#00ff00"/>
<path d="M474.1,416.3L477.4,422.1L470.7,422.1Z" fill="#00ff00"/>
<path d="M474.9,416.2L478.3,422.0L471.6,422.0Z" fill="#00ff00"/>
<path d="M477.8,415.6L481.1,421.4L474.4,421.4Z" fill="#00ff00"/>
<path d="M479.9,415.1L483.3,420.9L476.6,420.9Z" fill="#00ff00"/>
<path d="M482.4,414.4L485.7,420.2L479.0,420.2Z" fill="#00ff00"/>
<path d="M483.2,413.5L486.5,419.3L479.9,419.3Z" fill="#00ff00"/>
<path d="M487.4,414.2L490.8,420.0L484.1,420.0Z" fill="#00ff00"/>
<path d="M487.3,414.7L490.6,420.5L484.0,420.5Z" fill="#00ff00"/>
<path d="M490.3,412.1L493.6,417.9L486.9,417.9Z" fill="#00ff00"/>
<path d="M493.6,412.1L496.9,417.9L490.3,417.9Z" fill="#00ff00"/>
<path d="M495.8,413.1L499.2,418.9L492.5,418.9Z" fill="#00ff00"/>
<path d="M497.5,413.3L500.8,419.1L494.1,419.1Z" fill="#00ff00"/>
<path d="M499.5,413.2L502.9,419.0L496.2,419.0Z" fill="#00ff00"/>
<path d="M503.2,412.1L506.6,417.9L499.9,417.9Z" fill="#00ff00"/>
<path d="M505.0,412.2L508.3,418.0L501.7,418.0Z" fill="#00ff00"/>
<path d="M507.3,414.6L510.7,420.4L504.0,420.4Z" fill="#00ff00"/>
<path d="M509.9,414.3L513.2,420.1L506.6,420.1Z" fill="#00ff00"/>
<path d="M512.7,412.7L516.1,418.5L509.4,418.5Z" fill="#00ff00"/>
<path d="M515.4,414.7L518.7,420.5L512.0,420.5Z" fill="#00ff00"/>
<path d="M514.9,415.2L518.2,421.0L511.6,421.0Z" fill="#00ff00"/>
<path d="M517.7,413.6L521.0,419.4L514.4,419.4Z" fill="#00ff00"/>
<path d="M521.3,415.0L524.6,420.8L518.0,420.8Z" fill="#00ff00"/>
<path d="M523.0,414.1L526.3,419.9L519.6,419.9Z" fill="#00ff00"/>
<path d="M525.2,414.2L528.5,420.0L521.8,420.0Z" fill="#00ff00"/>
<path d="M525.9,415.4L529.2,421.2L522.5,421.2Z" fill="#00ff00"/>
<path d="M527.4,416.3L530.8,422.1L524.1,422.1Z" fill="#00ff00"/>
<path d="M530.2,415.7L533.5,421.5L526.9,421.5Z" fill="#00ff00"/>
<path d="M533.9,416.8L537.2,422.6L530.5,422.6Z" fill="#00ff00"/>
<path d="M536.7,418.0L540.0,423.8L533.4,423.8Z" fill="#00ff00"/>
<path d="M538.9,418.6L542.3,424.4L535.6,424.4Z" fill="#00ff00"/>
<path d="M541.4,420.1L544.7,425.9L538.0,425.9Z" fill="#00ff00"/>
<path d="M541.3,420.3L544.6,426.1L538.0,426.1Z" fill="#00ff00"/>
<path d="M543.8,420.9L547.2,426.7L540.5,426.7Z" fill="#00ff00"/>
<path d="M546.8,421.6L550.2,427.4L543.5,427.4Z" fill="#00ff00"/>
<path d="M547.3,420.9L550.6,426.7L544.0,426.7Z" fill="#00ff00"/>
<path d="M551.1,423.1L554.4,428.9L547.7,428.9Z" fill="#00ff00"/>
<path d="M553.1,421.6L556.4,427.4L549.7,427.4Z" fill="#00ff00"/>
<path d="M554.8,422.8L558.1,428.6L551.5,428.6Z" fill="#00ff00"/>
<path d="M556.7,425.8L560.1,431.6L553.4,431.6Z" fill="#00ff00"/>
<path d="M557.6,427.2L560.9,433.0L554.2,433.0Z" fill="#00ff00"/>
<path d="M561.2,426.4L564.5,432.2L557.9,432.2Z" fill="#00ff00"/>
<path d="M561.5,428.3L564.9,434.1L558.2,434.1Z" fill="#00ff00"/>
<path d="M565.0,430.1L568.4,435.9L561.7,435.9Z" fill="#00ff00"/>
<path d="M564.7,429.9L568.1,435.7L561.4,435.7Z" fill="#00ff00"/>
<path d="M566.4,433.5L569.7,439.3L563.1,439.3Z" fill="#00ff00"/>
<path d="M568.3,434.2L571.7,440.0L565.0,440.0Z" fill="#00ff00"/>
<path d="M570.3,435.9L573.6,441.7L567.0,441.7Z" fill="#00ff00"/>
<path d="M572.3,435.6L575.6,441.4L568.9,441.4Z" fill="#00ff00"/>
<path d="M575.4,437.9L578.7,443.7L572.0,443.7Z" fill="#00ff00"/>
<path d="M576.5,439.9L579.9,445.7L573.2,445.7Z" fill="#00ff00"/>
<path d="M579.0,438.8L582.3,444.6L575.6,444.6Z" fill="#00ff00"/>
<path d="M579.0,440.4L582.3,446.2L575.6,446.2Z" fill="#00ff00"/>
<path d="M581.1,443.7L584.4,449.5L577.8,449.5Z" fill="#00ff00"/>
<path d="M583.4,443.1L586.7,448.9L580.0,448.9Z" fill="#00ff00"/>
<path d="M583.1,447.2L586.4,453.0L579.7,453.0Z" fill="#00ff00"/>
<path d="M585.9,447.8L589.2,453.6L582.5,453.6Z" fill="#00ff00"/>
<path d="M586.7,449.0L590.0,454.8L583.4,454.8Z" fill="#00ff00"/>
<path d="M589.2,451.5L592.5,457.3L585.8,457.3Z" fill="#00ff00"/>
<path d="M590.0,454.4L593.4,460.2L586.7,460.2Z" fill="#00ff00"/>
<path d="M588.6,455.9L591.9,461.7L585.2,461.7Z" fill="#00ff00"/>
<path d="M589.7,459.8L593.1,465.6L586.4,465.6Z" fill="#00ff00"/>
<path d="M591.5,459.7L594.9,465.5L588.2,465.5Z" fill="#00ff00"/>
<path d="M589.9,462.6L593.2,468.4L586.5,468.4Z" fill="#00ff00"/>
<path d="M590.2,465.3L593.5,471.1L586.9,471.1Z" fill="#00ff00"/>
<path d="M589.5,466.7L592.8,472.5L586.2,472.5Z" fill="#00ff00"/>
<path d="M587.9,469.3L591.3,475.1L584.6,475.1Z" fill="#00ff00"/>
<path d="M587.6,469.3L590.9,475.1L584.2,475.1Z" fill="#00ff00"/>
<path d="M586.6,473.6L590.0,479.4L583.3,479.4Z" fill="#00ff00"/>
<path d="M584.2,472.8L587.5,478.6L580.9,478.6Z" fill="#00ff00"/>
<path d="M584.7,474.7L588.0,480.5L581.3,480.5Z" fill="#00ff00"/>
<path d="M581.5,476.3L584.9,482.1L578.2,482.1Z" fill="#00ff00"/>
<path d="M579.4,477.6L582.8,483.4L576.1,483.4Z" fill="#00ff00"/>
<path d="M578.1,479.7L581.5,485.5L574.8,485.5Z" fill="#00ff00"/>
<path d="M577.4,478.1L580.7,483.9L574.0,483.9Z" fill="#00ff00"/>
<path d="M574.1,480.6L577.5,486.4L570.8,486.4Z" fill="#00ff00"/>
<path d="M573.0,481.0L576.3,486.8L569.6,486.8Z" fill="#00ff00"/>
<path d="M570.3,481.0L573.6,486.8L566.9,486.8Z" fill="#00ff00"/>
<path d="M567.5,480.4L570.8,486.2L564.1,486.2Z" fill="#00ff00"/>
<path d="M566.6,482.5L570.0,488.3L563.3,488.3Z" fill="#00ff00"/>
<path d="M565.0,482.1L568.3,487.9L561.6,487.9Z" fill="#00ff00"/>
<path d="M561.1,482.5L564.5,488.3L557.8,488.3Z" fill="#00ff00"/>
<path d="M560.3,482.0L563.6,487.8L557.0,487.8Z" fill="#00ff00"/>
<path d="M557.9,481.8L561.3,487.6L554.6,487.6Z" fill="#00ff00"/>
<path d="M555.6,482.1L559.0,487.9L552.3,487.9Z" fill="#00ff00"/>
<path d="M552.2,482.2L555.6,488.0L548.9,488.0Z" fill="#00ff00"/>
<path d="M550.9,484.2L554.3,490.0L547.6,490.0Z" fill="#00ff00"/>
<path d="M549.3,482.6L552.7,488.4L546.0,488.4Z" fill="#00ff00"/>
<path d="M546.6,482.5L550.0,488.3L543.3,488.3Z" fill="#00ff00"/>
<path d="M544.9,482.4L548.2,488.2L541.5,488.2Z" fill="#00ff00"/>
<path d="M541.5,484.4L544.8,490.2L538.2,490.2Z" fill="#00ff00"/>
<path d="M540.3,483.2L543.6,489.0L537.0,489.0Z" fill="#00ff00"/>
<path d="M538.2,482.8L541.5,488.6L534.9,488.6Z" fill="#00ff00"/>
<path d="M432.0,466.5L435.7,460.1L428.3,460.1Z" fill="#0000ff"/>
<path d="M433.0,461.5L436.7,455.1L429.3,455.1Z" fill="#0000ff"/>
<path d="M435.0,453.5L438.7,447.1L431.3,447.1Z" fill="#0000ff"/>
<path d="M438.3,446.5L442.0,440.1L434.6,440.1Z" fill="#0000ff"/>
<path d="M443.4,436.5L447.1,430.1L439.7,430.1Z" fill="#0000ff"/>
<path d="M447.5,431.1L451.2,424.7L443.8,424.7Z" fill="#0000ff"/>
<path d="M453.6,428.5L457.3,422.1L449.9,422.1Z" fill="#0000ff"/>
<path d="M459.0,427.5L462.7,421.1L455.3,421.1Z" fill="#0000ff"/>
<path d="M465.9,426.5L469.6,420.1L462.2,420.1Z" fill="#0000ff"/>
<path d="M467.9,419.9L471.6,413.5L464.2,413.5Z" fill="#0000ff"/>
<path d="M478.1,414.7L481.8,408.3L474.4,408.3Z" fill="#0000ff"/>
<path d="M480.2,422.4L483.9,416.0L476.5,416.0Z" fill="#0000ff"/>
<path d="M485.3,412.7L489.0,406.3L481.6,406.3Z" fill="#0000ff"/>
<path d="M492.4,409.6L496.1,403.2L488.7,403.2Z" fill="#0000ff"/>
<path d="M492.4,415.8L496.1,409.4L488.7,409.4Z" fill="#0000ff"/>
<path d="M431.7,466.1L435.3,459.7L428.0,459.7Z" fill="#0000ff"/>
<path d="M432.3,463.8L436.0,457.4L428.6,457.4Z" fill="#0000ff"/>
<path d="M433.2,461.6L436.9,455.2L429.5,455.2Z" fill="#0000ff"/>
<path d="M434.1,458.7L437.8,452.3L430.4,452.3Z" fill="#0000ff"/>
<path d="M434.8,456.3L438.4,449.9L431.1,449.9Z" fill="#0000ff"/>
<path d="M434.6,453.2L438.3,446.8L430.9,446.8Z" fill="#0000ff"/>
<path d="M436.2,451.7L439.9,445.3L432.5,445.3Z" fill="#0000ff"/>
<path d="M437.1,449.1L440.7,442.7L433.4,442.7Z" fill="#0000ff"/>
<path d="M438.2,446.9L441.9,440.5L434.5,440.5Z" fill="#0000ff"/>
<path d="M439.1,444.0L442.8,437.6L435.5,437.6Z" fill="#0000ff"/>
<path d="M441.2,441.3L444.9,434.9L437.6,434.9Z" fill="#0000ff"/>
<path d="M441.9,438.5L445.6,432.1L438.2,432.1Z" fill="#0000ff"/>
<path d="M443.1,436.3L446.7,429.9L439.4,429.9Z" fill="#0000ff"/>
<path d="M502.0,410.5L505.7,404.1L498.3,404.1Z" fill="#0000ff"/>
<path d="M519.0,405.5L522.7,399.1L515.3,399.1Z" fill="#0000ff"/>
<path d="M519.0,411.5L522.7,405.1L515.3,405.1Z" fill="#0000ff"/>
<path d="M531.0,406.5L534.7,400.1L527.3,400.1Z" fill="#0000ff"/>
<path d="M537.0,409.5L540.7,403.1L533.3,403.1Z" fill="#0000ff"/>
<path d="M543.0,400.5L546.7,394.1L539.3,394.1Z" fill="#0000ff"/>
<path d="M547.0,405.5L550.7,399.1L543.3,399.1Z" fill="#0000ff"/>
<path d="M548.0,407.5L551.7,401.1L544.3,401.1Z" fill="#0000ff"/>
<path d="M559.0,408.5L562.7,402.1L555.3,402.1Z" fill="#0000ff"/>
<path d="M566.0,403.5L569.7,397.1L562.3,397.1Z" fill="#0000ff"/>
<path d="M567.0,412.5L570.7,406.1L563.3,406.1Z" fill="#0000ff"/>
<path d="M577.0,408.5L580.7,402.1L573.3,402.1Z" fill="#0000ff"/>
<path d="M578.0,412.5L581.7,406.1L574.3,406.1Z" fill="#0000ff"/>
<path d="M586.0,416.5L589.7,410.1L582.3,410.1Z" fill="#0000ff"/>
<path d="M594.0,421.5L597.7,415.1L590.3,415.1Z" fill="#0000ff"/>
<path d="M606.0,417.5L609.7,411.1L602.3,411.1Z" fill="#0000ff"/>
<path d="M606.0,420.5L609.7,414.1L602.3,414.1Z" fill="#0000ff"/>
<path d="M614.0,423.5L617.7,417.1L610.3,417.1Z" fill="#0000ff"/>
<path d="M619.0,424.5L622.7,418.1L615.3,418.1Z" fill="#0000ff"/>
<path d="M618.0,428.5L621.7,422.1L614.3,422.1Z" fill="#0000ff"/>
<path d="M627.0,436.5L630.7,430.1L623.3,430.1Z" fill="#0000ff"/>
<path d="M634.0,438.5L637.7,432.1L630.3,432.1Z" fill="#0000ff"/>
<path d="M640.0,442.5L643.7,436.1L636.3,436.1Z" fill="#0000ff"/>
<path d="M644.0,447.5L647.7,441.1L640.3,441.1Z" fill="#0000ff"/>
<path d="M646.0,455.5L649.7,449.1L642.3,449.1Z" fill="#0000ff"/>
<path d="M650.0,456.5L653.7,450.1L646.3,450.1Z" fill="#0000ff"/>
<path d="M651.0,465.5L654.7,459.1L647.3,459.1Z" fill="#0000ff"/>
<path d="M652.0,471.5L655.7,465.1L648.3,465.1Z" fill="#0000ff"/>
<path d="M648.0,476.5L651.7,470.1L644.3,470.1Z" fill="#0000ff"/>
<path d="M643.0,470.5L646.7,464.1L639.3,464.1Z" fill="#0000ff"/>
<path d="M641.0,478.5L644.7,472.1L637.3,472.1Z" fill="#0000ff"/>
<path d="M638.0,483.5L641.7,477.1L634.3,477.1Z" fill="#0000ff"/>
<path d="M634.0,487.5L637.7,481.1L630.3,481.1Z" fill="#0000ff"/>
<path d="M628.0,490.5L631.7,484.1L624.3,484.1Z" fill="#0000ff"/>
<path d="M624.0,492.5L627.7,486.1L620.3,486.1Z" fill="#0000ff"/>
<path d="M619.0,493.5L622.7,487.1L615.3,487.1Z" fill="#0000ff"/>
<path d="M617.0,491.5L620.7,485.1L613.3,485.1Z" fill="#0000ff"/>
<path d="M614.0,500.5L617.7,494.1L610.3,494.1Z" fill="#0000ff"/>
<path d="M602.0,496.5L605.7,490.1L598.3,490.1Z" fill="#0000ff"/>
<path d="M594.0,499.5L597.7,493.1L590.3,493.1Z" fill="#0000ff"/>
<path d="M588.0,497.5L591.7,491.1L584.3,491.1Z" fill="#0000ff"/>
<path d="M582.0,494.5L585.7,488.1L578.3,488.1Z" fill="#0000ff"/>
<path d="M577.0,493.5L580.7,487.1L573.3,487.1Z" fill="#0000ff"/>
<path d="M577.7,407.4L581.3,401.2L574.2,401.2Z" fill="#0000ff"/>
<path d="M577.6,411.3L581.2,405.1L574.1,405.1Z" fill="#0000ff"/>
<path d="M586.4,417.7L589.9,411.5L582.8,411.5Z" fill="#0000ff"/>
<path d="M594.5,420.3L598.1,414.1L591.0,414.1Z" fill="#0000ff"/>
<path d="M600.8,421.1L604.4,414.9L597.3,414.9Z" fill="#0000ff"/>
<path d="M606.4,415.9L609.9,409.7L602.8,409.7Z" fill="#0000ff"/>
<path d="M607.1,421.8L610.7,415.6L603.5,415.6Z" fill="#0000ff"/>
<path d="M613.4,422.1L617.0,415.9L609.9,415.9Z" fill="#0000ff"/>
<path d="M617.9,424.5L621.4,418.3L614.3,418.3Z" fill="#0000ff"/>
<path d="M619.4,428.9L622.9,422.7L615.8,422.7Z" fill="#0000ff"/>
<path d="M624.0,431.4L627.6,425.2L620.5,425.2Z" fill="#0000ff"/>
<path d="M626.4,437.3L629.9,431.1L622.8,431.1Z" fill="#0000ff"/>
<path d="M634.5,438.1L638.1,431.9L631.0,431.9Z" fill="#0000ff"/>
<path d="M640.6,441.8L644.2,435.6L637.1,435.6Z" fill="#0000ff"/>
<path d="M642.4,447.1L646.0,440.9L638.8,440.9Z" fill="#0000ff"/>
<path d="M644.4,455.9L647.9,449.7L640.8,449.7Z" fill="#0000ff"/>
<path d="M649.4,456.4L653.0,450.2L645.8,450.2Z" fill="#0000ff"/>
<path d="M651.4,464.5L654.9,458.3L647.8,458.3Z" fill="#0000ff"/>
<path d="M651.9,469.7L655.4,463.5L648.3,463.5Z" fill="#0000ff"/>
<path d="M649.5,476.6L653.1,470.4L646.0,470.4Z" fill="#0000ff"/>
<path d="M644.8,468.8L648.3,462.6L641.2,462.6Z" fill="#0000ff"/>
<path d="M641.4,479.2L645.0,473.0L637.8,473.0Z" fill="#0000ff"/>
<path d="M637.4,481.9L640.9,475.7L633.8,475.7Z" fill="#0000ff"/>
<path d="M632.8,486.1L636.3,479.9L629.2,479.9Z" fill="#0000ff"/>
<path d="M629.0,488.9L632.5,482.7L625.4,482.7Z" fill="#0000ff"/>
<path d="M625.1,492.1L628.7,485.9L621.6,485.9Z" fill="#0000ff"/>
<path d="M619.1,493.7L622.7,487.5L615.6,487.5Z" fill="#0000ff"/>
<path d="M617.2,492.0L620.8,485.8L613.6,485.8Z" fill="#0000ff"/>
<path d="M614.4,499.8L617.9,493.6L610.8,493.6Z" fill="#0000ff"/>
<path d="M608.9,497.5L612.4,491.3L605.3,491.3Z" fill="#0000ff"/>
<path d="M602.8,497.4L606.3,491.2L599.2,491.2Z" fill="#0000ff"/>
<path d="M595.0,498.7L598.6,492.5L591.4,492.5Z" fill="#0000ff"/>
<path d="M589.0,499.1L592.5,492.9L585.4,492.9Z" fill="#0000ff"/>
<path d="M581.8,493.6L585.4,487.4L578.3,487.4Z" fill="#0000ff"/>
<path d="M577.1,495.0L580.6,488.8L573.5,488.8Z" fill="#0000ff"/>
<polyline points="428.0,463.4 429.5,457.0 431.1,451.1 434.0,446.5 437.3,443.0 443.4,438.8 449.5,436.8 454.6,435.8" fill="none" stroke="#00ffff" stroke-width="7.5" stroke-linejoin="round" stroke-linecap="round"/>
<rect x="425.0" y="460.2" width="5.2" height="5.2" fill="#00ffff"/>
<rect x="425.9" y="458.9" width="5.2" height="5.2" fill="#00ffff"/>
<rect x="426.7" y="456.4" width="5.2" height="5.2" fill="#00ffff"/>
<rect x="427.5" y="454.1" width="5.2" height="5.2" fill="#00ffff"/>
<rect x="428.0" y="451.0" width="5.2" height="5.2" fill="#00ffff"/>
<rect x="427.9" y="448.1" width="5.2" height="5.2" fill="#00ffff"/>
<rect x="429.4" y="446.2" width="5.2" height="5.2" fill="#00ffff"/>
<rect x="431.5" y="443.5" width="5.2" height="5.2" fill="#00ffff"/>
<rect x="433.6" y="442.0" width="5.2" height="5.2" fill="#00ffff"/>
<rect x="434.3" y="440.0" width="5.2" height="5.2" fill="#00ffff"/>
<rect x="437.0" y="439.5" width="5.2" height="5.2" fill="#00ffff"/>
<rect x="438.4" y="437.0" width="5.2" height="5.2" fill="#00ffff"/>
<rect x="441.1" y="435.9" width="5.2" height="5.2" fill="#00ffff"/>
<rect x="443.4" y="435.5" width="5.2" height="5.2" fill="#00ffff"/>
<rect x="445.0" y="434.7" width="5.2" height="5.2" fill="#00ffff"/>
<rect x="447.3" y="434.2" width="5.2" height="5.2" fill="#00ffff"/>
<rect x="449.2" y="434.2" width="5.2" height="5.2" fill="#00ffff"/>
<rect x="451.5" y="433.5" width="5.2" height="5.2" fill="#00ffff"/>
<rect x="464.2" y="428.0" width="5.4" height="5.4" fill="#00ffff"/>
<rect x="471.3" y="426.9" width="5.4" height="5.4" fill="#00ffff"/>
<rect x="474.3" y="427.4" width="5.4" height="5.4" fill="#00ffff"/>
<rect x="484.6" y="429.5" width="5.4" height="5.4" fill="#00ffff"/>
<rect x="490.3" y="428.5" width="5.4" height="5.4" fill="#00ffff"/>
<rect x="497.3" y="429.3" width="5.4" height="5.4" fill="#00ffff"/>
<rect x="502.3" y="433.3" width="5.4" height="5.4" fill="#00ffff"/>
<rect x="506.3" y="439.3" width="5.4" height="5.4" fill="#00ffff"/>
<rect x="513.3" y="439.3" width="5.4" height="5.4" fill="#00ffff"/>
<rect x="514.3" y="445.3" width="5.4" height="5.4" fill="#00ffff"/>
<rect x="520.3" y="449.3" width="5.4" height="5.4" fill="#00ffff"/>
<rect x="521.3" y="455.3" width="5.4" height="5.4" fill="#00ffff"/>
<rect x="516.3" y="463.3" width="5.4" height="5.4" fill="#00ffff"/>
<rect x="514.3" y="467.3" width="5.4" height="5.4" fill="#00ffff"/>
<rect x="506.3" y="469.3" width="5.4" height="5.4" fill="#00ffff"/>
<rect x="498.3" y="469.3" width="5.4" height="5.4" fill="#00ffff"/>
<rect x="490.3" y="467.3" width="5.4" height="5.4" fill="#00ffff"/>
<rect x="486.3" y="466.3" width="5.4" height="5.4" fill="#00ffff"/>
<line x1="503" y1="418" x2="493.6" y2="381.2" stroke="#ff0000" stroke-width="1.4"/>
<path d="M492.0,375.0L497.6,381.2L490.1,383.1Z" fill="#ff0000"/>
<line x1="517" y1="413" x2="530.0" y2="374.1" stroke="#66ee33" stroke-width="1.4"/>
<path d="M532.0,368.0L533.4,376.3L526.0,373.8Z" fill="#66ee33"/>
<line x1="475" y1="424" x2="469.9" y2="407.1" stroke="#00ffff" stroke-width="1.4"/>
<path d="M468.0,401.0L473.9,406.9L466.4,409.2Z" fill="#00ffff"/>
<line x1="467" y1="435" x2="443.6" y2="422.1" stroke="#000000" stroke-width="1.4"/>
<path d="M438.0,419.0L446.4,419.2L442.6,426.0Z" fill="#000000"/>
<line x1="541" y1="398" x2="562.6" y2="384.4" stroke="#1010c0" stroke-width="1.4"/>
<path d="M568.0,381.0L563.8,388.2L559.7,381.6Z" fill="#1010c0"/>
<text x="455" y="367.6" font-size="12.6" text-anchor="start" >20.57Hz</text>
<text x="509" y="363.6" font-size="12.6" text-anchor="start" >19.46Hz</text>
<text x="436.6" y="395" font-size="12.6" text-anchor="start" >33.89Hz</text>
<text x="408" y="412.4" font-size="12.6" text-anchor="start" >37.87Hz</text>
<text x="564" y="378.4" font-size="12.6" text-anchor="start" >12.48Hz</text>
<rect x="406.7" y="568.4" width="270.7" height="217.0" fill="none" stroke="#5a5a5a" stroke-width="1.1"/>
<line x1="402.3" y1="584.15" x2="406.7" y2="584.15" stroke="#5a5a5a" stroke-width="1.1"/>
<text x="399.6" y="588" font-size="13.5" text-anchor="end" >2000</text>
<line x1="402.3" y1="616.3199999999999" x2="406.7" y2="616.3199999999999" stroke="#5a5a5a" stroke-width="1.1"/>
<text x="399.6" y="620.2" font-size="13.5" text-anchor="end" >1600</text>
<line x1="402.3" y1="648.49" x2="406.7" y2="648.49" stroke="#5a5a5a" stroke-width="1.1"/>
<text x="399.6" y="652.4" font-size="13.5" text-anchor="end" >1200</text>
<line x1="402.3" y1="680.66" x2="406.7" y2="680.66" stroke="#5a5a5a" stroke-width="1.1"/>
<text x="399.6" y="684.6" font-size="13.5" text-anchor="end" >800</text>
<line x1="402.3" y1="712.83" x2="406.7" y2="712.83" stroke="#5a5a5a" stroke-width="1.1"/>
<text x="399.6" y="716.7" font-size="13.5" text-anchor="end" >400</text>
<line x1="402.3" y1="745.0" x2="406.7" y2="745.0" stroke="#5a5a5a" stroke-width="1.1"/>
<text x="399.6" y="748.9" font-size="13.5" text-anchor="end" >0</text>
<line x1="402.3" y1="777.17" x2="406.7" y2="777.17" stroke="#5a5a5a" stroke-width="1.1"/>
<text x="399.6" y="781.1" font-size="13.5" text-anchor="end" >-400</text>
<line x1="404.7" y1="600.235" x2="406.7" y2="600.235" stroke="#5a5a5a" stroke-width="1"/>
<line x1="404.7" y1="632.405" x2="406.7" y2="632.405" stroke="#5a5a5a" stroke-width="1"/>
<line x1="404.7" y1="664.575" x2="406.7" y2="664.575" stroke="#5a5a5a" stroke-width="1"/>
<line x1="404.7" y1="696.745" x2="406.7" y2="696.745" stroke="#5a5a5a" stroke-width="1"/>
<line x1="404.7" y1="728.915" x2="406.7" y2="728.915" stroke="#5a5a5a" stroke-width="1"/>
<line x1="404.7" y1="761.085" x2="406.7" y2="761.085" stroke="#5a5a5a" stroke-width="1"/>
<line x1="429.4" y1="785.4" x2="429.4" y2="789.0" stroke="#5a5a5a" stroke-width="1.1"/>
<text x="429.4" y="803" font-size="13.5" text-anchor="middle" >0</text>
<line x1="474.4" y1="785.4" x2="474.4" y2="789.0" stroke="#5a5a5a" stroke-width="1.1"/>
<text x="474.4" y="803" font-size="13.5" text-anchor="middle" >400</text>
<line x1="519.4" y1="785.4" x2="519.4" y2="789.0" stroke="#5a5a5a" stroke-width="1.1"/>
<text x="519.4" y="803" font-size="13.5" text-anchor="middle" >800</text>
<line x1="564.4" y1="785.4" x2="564.4" y2="789.0" stroke="#5a5a5a" stroke-width="1.1"/>
<text x="564.4" y="803" font-size="13.5" text-anchor="middle" >1200</text>
<line x1="609.4" y1="785.4" x2="609.4" y2="789.0" stroke="#5a5a5a" stroke-width="1.1"/>
<text x="609.4" y="803" font-size="13.5" text-anchor="middle" >1600</text>
<line x1="654.4" y1="785.4" x2="654.4" y2="789.0" stroke="#5a5a5a" stroke-width="1.1"/>
<text x="654.4" y="803" font-size="13.5" text-anchor="middle" >2000</text>
<line x1="406.9" y1="785.4" x2="406.9" y2="787.6" stroke="#5a5a5a" stroke-width="1"/>
<line x1="451.9" y1="785.4" x2="451.9" y2="787.6" stroke="#5a5a5a" stroke-width="1"/>
<line x1="496.9" y1="785.4" x2="496.9" y2="787.6" stroke="#5a5a5a" stroke-width="1"/>
<line x1="541.9" y1="785.4" x2="541.9" y2="787.6" stroke="#5a5a5a" stroke-width="1"/>
<line x1="586.9" y1="785.4" x2="586.9" y2="787.6" stroke="#5a5a5a" stroke-width="1"/>
<line x1="631.9" y1="785.4" x2="631.9" y2="787.6" stroke="#5a5a5a" stroke-width="1"/>
<line x1="676.9" y1="785.4" x2="676.9" y2="787.6" stroke="#5a5a5a" stroke-width="1"/>
<text x="415.5" y="591.6" font-size="23" text-anchor="start" >(f)</text>
<text transform="translate(364,736.2) rotate(-90)" font-size="18.9" letter-spacing="0.25">-<tspan font-style="italic">Z</tspan><tspan font-size="13.5" dy="4">img</tspan><tspan dy="-4"> (&#937; cm</tspan><tspan font-size="12.5" dy="-7.5">2</tspan><tspan dy="7.5">)</tspan></text>
<text x="499.6" y="826.7" font-size="18.6" letter-spacing="0.35">Z<tspan font-size="14" dy="3.8">re</tspan><tspan dy="-3.8"> (&#937; cm</tspan><tspan font-size="12.5" dy="-7.5">2</tspan><tspan dy="7.5">)</tspan></text>
<rect x="571.9" y="572.5" width="5.0" height="5.0" fill="#000000"/>
<text x="586.6" y="578.1" font-size="9.9" text-anchor="start" >Blank</text>
<circle cx="574.4" cy="587.0" r="2.6" fill="#ff0000"/>
<text x="586.6" y="590.1" font-size="9.9" text-anchor="start" >0.5 g/L TOE</text>
<path d="M574.4,596.2L577.3,601.2L571.5,601.2Z" fill="#00ff00"/>
<text x="586.6" y="602.1" font-size="9.9" text-anchor="start" >1.0 g/L TOE</text>
<path d="M574.4,614.8L577.3,609.8L571.5,609.8Z" fill="#0000ff"/>
<text x="586.6" y="615.1" font-size="9.9" text-anchor="start" >2.0 g/L TOE</text>
<rect x="571.9" y="621.1" width="5.0" height="5.0" fill="#00ffff"/>
<text x="586.6" y="626.7" font-size="9.9" text-anchor="start" >2.5 g/L TOE</text>
<polyline points="440.0,737.0 443.0,731.0 447.5,727.0 455.7,722.5 465.9,721.0 476.1,720.5 486.3,722.0 495.0,725.0 501.9,729.4 507.0,732.0 510.7,735.3 515.0,742.0 514.0,750.0 507.0,755.0 497.5,755.7 488.8,754.2 484.4,752.8" fill="none" stroke="#000000" stroke-width="6.5" stroke-linejoin="round" stroke-linecap="round"/>
<rect x="437.0" y="734.7" width="5.0" height="5.0" fill="#000000"/>
<rect x="438.4" y="732.9" width="5.0" height="5.0" fill="#000000"/>
<rect x="439.0" y="730.6" width="5.0" height="5.0" fill="#000000"/>
<rect x="440.4" y="729.0" width="5.0" height="5.0" fill="#000000"/>
<rect x="443.3" y="726.7" width="5.0" height="5.0" fill="#000000"/>
<rect x="444.7" y="724.2" width="5.0" height="5.0" fill="#000000"/>
<rect x="446.8" y="723.3" width="5.0" height="5.0" fill="#000000"/>
<rect x="448.8" y="721.9" width="5.0" height="5.0" fill="#000000"/>
<rect x="451.5" y="721.3" width="5.0" height="5.0" fill="#000000"/>
<rect x="453.0" y="720.6" width="5.0" height="5.0" fill="#000000"/>
<rect x="455.4" y="719.7" width="5.0" height="5.0" fill="#000000"/>
<rect x="457.9" y="719.7" width="5.0" height="5.0" fill="#000000"/>
<rect x="461.3" y="718.6" width="5.0" height="5.0" fill="#000000"/>
<rect x="463.7" y="718.9" width="5.0" height="5.0" fill="#000000"/>
<rect x="465.7" y="718.2" width="5.0" height="5.0" fill="#000000"/>
<rect x="468.5" y="718.7" width="5.0" height="5.0" fill="#000000"/>
<rect x="470.6" y="718.3" width="5.0" height="5.0" fill="#000000"/>
<rect x="473.7" y="717.9" width="5.0" height="5.0" fill="#000000"/>
<rect x="476.2" y="718.8" width="5.0" height="5.0" fill="#000000"/>
<rect x="478.4" y="719.2" width="5.0" height="5.0" fill="#000000"/>
<rect x="481.1" y="719.5" width="5.0" height="5.0" fill="#000000"/>
<rect x="484.2" y="719.1" width="5.0" height="5.0" fill="#000000"/>
<rect x="486.4" y="720.8" width="5.0" height="5.0" fill="#000000"/>
<rect x="487.9" y="720.4" width="5.0" height="5.0" fill="#000000"/>
<rect x="489.9" y="722.3" width="5.0" height="5.0" fill="#000000"/>
<rect x="491.9" y="723.0" width="5.0" height="5.0" fill="#000000"/>
<rect x="494.4" y="724.2" width="5.0" height="5.0" fill="#000000"/>
<rect x="496.6" y="725.0" width="5.0" height="5.0" fill="#000000"/>
<rect x="499.6" y="726.4" width="5.0" height="5.0" fill="#000000"/>
<rect x="501.8" y="728.7" width="5.0" height="5.0" fill="#000000"/>
<rect x="504.8" y="730.0" width="5.0" height="5.0" fill="#000000"/>
<rect x="506.9" y="730.6" width="5.0" height="5.0" fill="#000000"/>
<rect x="507.9" y="733.2" width="5.0" height="5.0" fill="#000000"/>
<rect x="509.9" y="734.5" width="5.0" height="5.0" fill="#000000"/>
<rect x="511.1" y="736.9" width="5.0" height="5.0" fill="#000000"/>
<rect x="512.4" y="739.0" width="5.0" height="5.0" fill="#000000"/>
<rect x="511.6" y="742.8" width="5.0" height="5.0" fill="#000000"/>
<rect x="511.6" y="745.3" width="5.0" height="5.0" fill="#000000"/>
<rect x="511.0" y="747.5" width="5.0" height="5.0" fill="#000000"/>
<rect x="508.7" y="749.1" width="5.0" height="5.0" fill="#000000"/>
<rect x="506.4" y="751.1" width="5.0" height="5.0" fill="#000000"/>
<rect x="504.1" y="752.8" width="5.0" height="5.0" fill="#000000"/>
<rect x="502.1" y="752.2" width="5.0" height="5.0" fill="#000000"/>
<rect x="499.6" y="752.8" width="5.0" height="5.0" fill="#000000"/>
<rect x="497.9" y="752.8" width="5.0" height="5.0" fill="#000000"/>
<rect x="494.7" y="753.8" width="5.0" height="5.0" fill="#000000"/>
<rect x="493.3" y="753.1" width="5.0" height="5.0" fill="#000000"/>
<rect x="490.4" y="752.1" width="5.0" height="5.0" fill="#000000"/>
<rect x="488.2" y="751.6" width="5.0" height="5.0" fill="#000000"/>
<rect x="485.8" y="751.7" width="5.0" height="5.0" fill="#000000"/>
<rect x="484.0" y="751.1" width="5.0" height="5.0" fill="#000000"/>
<rect x="481.7" y="749.7" width="5.0" height="5.0" fill="#000000"/>
<circle cx="430.3" cy="742.4" r="2.9" fill="#ff0000"/>
<circle cx="432.1" cy="739.9" r="2.9" fill="#ff0000"/>
<circle cx="434.2" cy="737.8" r="2.9" fill="#ff0000"/>
<circle cx="436.3" cy="735.2" r="2.9" fill="#ff0000"/>
<circle cx="438.4" cy="732.5" r="2.9" fill="#ff0000"/>
<circle cx="440.9" cy="730.7" r="2.9" fill="#ff0000"/>
<circle cx="443.3" cy="727.9" r="2.9" fill="#ff0000"/>
<circle cx="445.7" cy="725.3" r="2.9" fill="#ff0000"/>
<circle cx="448.5" cy="722.9" r="2.9" fill="#ff0000"/>
<circle cx="450.6" cy="721.2" r="2.9" fill="#ff0000"/>
<circle cx="452.7" cy="719.3" r="2.9" fill="#ff0000"/>
<circle cx="455.2" cy="717.3" r="2.9" fill="#ff0000"/>
<circle cx="457.5" cy="715.5" r="2.9" fill="#ff0000"/>
<circle cx="459.3" cy="713.6" r="2.9" fill="#ff0000"/>
<circle cx="460.8" cy="710.6" r="2.9" fill="#ff0000"/>
<circle cx="462.0" cy="708.5" r="2.9" fill="#ff0000"/>
<circle cx="465.5" cy="707.9" r="2.9" fill="#ff0000"/>
<circle cx="468.8" cy="707.5" r="2.9" fill="#ff0000"/>
<circle cx="471.6" cy="706.2" r="2.9" fill="#ff0000"/>
<circle cx="475.4" cy="705.0" r="2.9" fill="#ff0000"/>
<circle cx="478.0" cy="705.3" r="2.9" fill="#ff0000"/>
<circle cx="480.5" cy="704.9" r="2.9" fill="#ff0000"/>
<circle cx="483.7" cy="704.5" r="2.9" fill="#ff0000"/>
<circle cx="486.5" cy="704.4" r="2.9" fill="#ff0000"/>
<circle cx="489.4" cy="705.1" r="2.9" fill="#ff0000"/>
<circle cx="492.5" cy="705.4" r="2.9" fill="#ff0000"/>
<circle cx="492.5" cy="705.5" r="3.0" fill="#ff0000"/>
<circle cx="496.9" cy="706.9" r="3.0" fill="#ff0000"/>
<circle cx="501.7" cy="708.5" r="3.0" fill="#ff0000"/>
<circle cx="505.5" cy="709.5" r="3.0" fill="#ff0000"/>
<circle cx="509.2" cy="710.4" r="3.0" fill="#ff0000"/>
<circle cx="512.6" cy="711.6" r="3.0" fill="#ff0000"/>
<circle cx="516.8" cy="713.4" r="3.0" fill="#ff0000"/>
<circle cx="520.2" cy="713.8" r="3.0" fill="#ff0000"/>
<circle cx="524.1" cy="713.9" r="3.0" fill="#ff0000"/>
<circle cx="527.1" cy="716.9" r="3.0" fill="#ff0000"/>
<circle cx="531.0" cy="719.3" r="3.0" fill="#ff0000"/>
<circle cx="535.0" cy="721.7" r="3.0" fill="#ff0000"/>
<circle cx="538.7" cy="723.2" r="3.0" fill="#ff0000"/>
<circle cx="542.0" cy="725.7" r="3.0" fill="#ff0000"/>
<circle cx="546.0" cy="726.9" r="3.0" fill="#ff0000"/>
<circle cx="549.1" cy="728.9" r="3.0" fill="#ff0000"/>
<circle cx="552.7" cy="730.8" r="3.0" fill="#ff0000"/>
<circle cx="556.1" cy="733.1" r="3.0" fill="#ff0000"/>
<circle cx="558.8" cy="735.0" r="3.0" fill="#ff0000"/>
<circle cx="560.9" cy="738.2" r="3.0" fill="#ff0000"/>
<circle cx="563.4" cy="740.4" r="3.0" fill="#ff0000"/>
<circle cx="563.9" cy="744.6" r="3.0" fill="#ff0000"/>
<circle cx="564.9" cy="748.1" r="3.0" fill="#ff0000"/>
<circle cx="563.4" cy="751.2" r="3.0" fill="#ff0000"/>
<circle cx="561.8" cy="754.0" r="3.0" fill="#ff0000"/>
<circle cx="558.7" cy="756.3" r="3.0" fill="#ff0000"/>
<circle cx="555.8" cy="758.2" r="3.0" fill="#ff0000"/>
<circle cx="552.0" cy="759.8" r="3.0" fill="#ff0000"/>
<circle cx="548.2" cy="760.5" r="3.0" fill="#ff0000"/>
<circle cx="545.1" cy="761.4" r="3.0" fill="#ff0000"/>
<circle cx="541.2" cy="762.1" r="3.0" fill="#ff0000"/>
<circle cx="535.8" cy="762.7" r="3.0" fill="#ff0000"/>
<circle cx="529.7" cy="763.3" r="3.0" fill="#ff0000"/>
<circle cx="523.6" cy="761.4" r="3.0" fill="#ff0000"/>
<circle cx="518.9" cy="759.4" r="3.0" fill="#ff0000"/>
<path d="M432.9,740.6L436.1,746.2L429.7,746.2Z" fill="#00ff00"/>
<path d="M434.5,738.8L437.7,744.4L431.2,744.4Z" fill="#00ff00"/>
<path d="M436.2,736.8L439.4,742.4L433.0,742.4Z" fill="#00ff00"/>
<path d="M437.4,734.8L440.6,740.4L434.2,740.4Z" fill="#00ff00"/>
<path d="M439.2,732.3L442.5,737.9L436.0,737.9Z" fill="#00ff00"/>
<path d="M440.4,730.2L443.6,735.8L437.2,735.8Z" fill="#00ff00"/>
<path d="M442.3,727.7L445.6,733.3L439.1,733.3Z" fill="#00ff00"/>
<path d="M444.5,725.4L447.8,731.0L441.3,731.0Z" fill="#00ff00"/>
<path d="M446.2,722.7L449.5,728.3L443.0,728.3Z" fill="#00ff00"/>
<path d="M448.4,719.5L451.6,725.1L445.1,725.1Z" fill="#00ff00"/>
<path d="M451.0,716.8L454.2,722.4L447.7,722.4Z" fill="#00ff00"/>
<path d="M453.0,713.9L456.2,719.5L449.8,719.5Z" fill="#00ff00"/>
<path d="M455.7,711.5L458.9,717.1L452.5,717.1Z" fill="#00ff00"/>
<path d="M457.3,708.7L460.5,714.3L454.1,714.3Z" fill="#00ff00"/>
<path d="M460.7,707.9L464.0,713.5L457.5,713.5Z" fill="#00ff00"/>
<path d="M464.1,707.2L467.3,712.8L460.9,712.8Z" fill="#00ff00"/>
<path d="M466.9,706.8L470.1,712.4L463.7,712.4Z" fill="#00ff00"/>
<path d="M468.9,704.5L472.1,710.1L465.7,710.1Z" fill="#00ff00"/>
<path d="M471.0,702.7L474.2,708.3L467.8,708.3Z" fill="#00ff00"/>
<path d="M474.2,702.1L477.4,707.7L471.0,707.7Z" fill="#00ff00"/>
<path d="M477.1,701.1L480.3,706.7L473.8,706.7Z" fill="#00ff00"/>
<path d="M480.3,701.0L483.6,706.6L477.1,706.6Z" fill="#00ff00"/>
<path d="M482.5,698.3L485.7,703.9L479.2,703.9Z" fill="#00ff00"/>
<path d="M484.0,695.1L487.2,700.7L480.8,700.7Z" fill="#00ff00"/>
<path d="M487.0,696.1L490.2,701.7L483.8,701.7Z" fill="#00ff00"/>
<path d="M490.1,696.0L493.3,701.6L486.9,701.6Z" fill="#00ff00"/>
<path d="M495.7,694.0L499.0,699.8L492.3,699.8Z" fill="#00ff00"/>
<path d="M497.3,694.3L500.7,700.1L494.0,700.1Z" fill="#00ff00"/>
<path d="M502.5,693.8L505.9,699.6L499.2,699.6Z" fill="#00ff00"/>
<path d="M503.8,695.0L507.2,700.8L500.5,700.8Z" fill="#00ff00"/>
<path d="M507.8,695.4L511.1,701.2L504.5,701.2Z" fill="#00ff00"/>
<path d="M512.3,696.6L515.6,702.4L509.0,702.4Z" fill="#00ff00"/>
<path d="M516.0,694.9L519.3,700.7L512.6,700.7Z" fill="#00ff00"/>
<path d="M517.1,695.9L520.4,701.7L513.7,701.7Z" fill="#00ff00"/>
<path d="M518.7,697.1L522.1,702.9L515.4,702.9Z" fill="#00ff00"/>
<path d="M522.4,695.2L525.7,701.0L519.1,701.0Z" fill="#00ff00"/>
<path d="M525.5,695.2L528.8,701.0L522.2,701.0Z" fill="#00ff00"/>
<path d="M529.4,695.5L532.8,701.3L526.1,701.3Z" fill="#00ff00"/>
<path d="M531.0,694.6L534.4,700.4L527.7,700.4Z" fill="#00ff00"/>
<path d="M532.3,694.3L535.7,700.1L529.0,700.1Z" fill="#00ff00"/>
<path d="M537.0,695.6L540.3,701.4L533.6,701.4Z" fill="#00ff00"/>
<path d="M539.3,695.5L542.6,701.3L535.9,701.3Z" fill="#00ff00"/>
<path d="M539.9,696.3L543.2,702.1L536.6,702.1Z" fill="#00ff00"/>
<path d="M543.1,698.5L546.4,704.3L539.8,704.3Z" fill="#00ff00"/>
<path d="M545.4,699.8L548.7,705.6L542.1,705.6Z" fill="#00ff00"/>
<path d="M548.2,700.5L551.6,706.3L544.9,706.3Z" fill="#00ff00"/>
<path d="M551.3,701.0L554.6,706.8L547.9,706.8Z" fill="#00ff00"/>
<path d="M554.1,703.0L557.4,708.8L550.8,708.8Z" fill="#00ff00"/>
<path d="M555.8,704.3L559.2,710.1L552.5,710.1Z" fill="#00ff00"/>
<path d="M561.1,706.6L564.4,712.4L557.8,712.4Z" fill="#00ff00"/>
<path d="M565.2,707.4L568.5,713.2L561.8,713.2Z" fill="#00ff00"/>
<path d="M568.4,710.6L571.7,716.4L565.1,716.4Z" fill="#00ff00"/>
<path d="M572.5,711.4L575.8,717.2L569.1,717.2Z" fill="#00ff00"/>
<path d="M577.8,713.0L581.1,718.8L574.5,718.8Z" fill="#00ff00"/>
<path d="M579.9,715.9L583.2,721.7L576.5,721.7Z" fill="#00ff00"/>
<path d="M582.9,717.8L586.2,723.6L579.5,723.6Z" fill="#00ff00"/>
<path d="M584.9,719.6L588.2,725.4L581.5,725.4Z" fill="#00ff00"/>
<path d="M589.4,721.6L592.7,727.4L586.0,727.4Z" fill="#00ff00"/>
<path d="M591.9,725.7L595.3,731.5L588.6,731.5Z" fill="#00ff00"/>
<path d="M593.3,730.0L596.6,735.8L589.9,735.8Z" fill="#00ff00"/>
<path d="M595.1,735.0L598.4,740.8L591.8,740.8Z" fill="#00ff00"/>
<path d="M595.8,738.8L599.1,744.6L592.4,744.6Z" fill="#00ff00"/>
<path d="M596.5,743.3L599.8,749.1L593.1,749.1Z" fill="#00ff00"/>
<path d="M596.5,746.1L599.8,751.9L593.1,751.9Z" fill="#00ff00"/>
<path d="M596.9,749.9L600.2,755.7L593.5,755.7Z" fill="#00ff00"/>
<path d="M596.1,754.0L599.4,759.8L592.8,759.8Z" fill="#00ff00"/>
<path d="M591.0,755.8L594.3,761.6L587.6,761.6Z" fill="#00ff00"/>
<path d="M589.7,760.0L593.1,765.8L586.4,765.8Z" fill="#00ff00"/>
<path d="M584.8,760.2L588.1,766.0L581.4,766.0Z" fill="#00ff00"/>
<path d="M580.4,761.9L583.7,767.7L577.0,767.7Z" fill="#00ff00"/>
<path d="M577.5,760.9L580.8,766.7L574.1,766.7Z" fill="#00ff00"/>
<path d="M573.3,763.3L576.7,769.1L570.0,769.1Z" fill="#00ff00"/>
<path d="M570.8,764.7L574.1,770.5L567.5,770.5Z" fill="#00ff00"/>
<path d="M568.5,763.6L571.8,769.4L565.1,769.4Z" fill="#00ff00"/>
<path d="M566.2,764.3L569.5,770.1L562.9,770.1Z" fill="#00ff00"/>
<path d="M563.7,763.9L567.0,769.7L560.3,769.7Z" fill="#00ff00"/>
<path d="M562.1,764.4L565.4,770.2L558.7,770.2Z" fill="#00ff00"/>
<path d="M558.9,763.4L562.2,769.2L555.6,769.2Z" fill="#00ff00"/>
<path d="M555.8,765.1L559.1,770.9L552.4,770.9Z" fill="#00ff00"/>
<path d="M551.7,762.1L555.1,767.9L548.4,767.9Z" fill="#00ff00"/>
<path d="M548.7,763.2L552.0,769.0L545.4,769.0Z" fill="#00ff00"/>
<path d="M545.8,761.9L549.1,767.7L542.4,767.7Z" fill="#00ff00"/>
<path d="M542.9,760.7L546.3,766.5L539.6,766.5Z" fill="#00ff00"/>
<path d="M542.1,759.6L545.4,765.4L538.8,765.4Z" fill="#00ff00"/>
<path d="M539.5,757.8L542.8,763.6L536.1,763.6Z" fill="#00ff00"/>
<path d="M431.0,747.6L434.6,741.4L427.4,741.4Z" fill="#0000ff"/>
<path d="M432.5,742.3L436.1,736.1L429.0,736.1Z" fill="#0000ff"/>
<path d="M434.1,737.0L437.6,730.8L430.5,730.8Z" fill="#0000ff"/>
<path d="M435.7,731.4L439.2,725.2L432.1,725.2Z" fill="#0000ff"/>
<path d="M438.6,725.0L442.1,718.8L435.0,718.8Z" fill="#0000ff"/>
<path d="M441.6,720.7L445.2,714.5L438.1,714.5Z" fill="#0000ff"/>
<path d="M445.2,716.4L448.7,710.2L441.6,710.2Z" fill="#0000ff"/>
<path d="M449.6,712.5L453.2,706.3L446.1,706.3Z" fill="#0000ff"/>
<path d="M454.9,709.0L458.5,702.8L451.3,702.8Z" fill="#0000ff"/>
<path d="M460.2,706.3L463.7,700.1L456.6,700.1Z" fill="#0000ff"/>
<path d="M464.3,704.6L467.9,698.4L460.8,698.4Z" fill="#0000ff"/>
<path d="M468.7,700.5L472.3,694.3L465.2,694.3Z" fill="#0000ff"/>
<path d="M474.1,696.2L477.7,690.0L470.6,690.0Z" fill="#0000ff"/>
<path d="M480.0,692.1L483.6,685.9L476.5,685.9Z" fill="#0000ff"/>
<path d="M487.7,689.9L491.2,683.7L484.1,683.7Z" fill="#0000ff"/>
<path d="M505.0,687.1L508.7,680.7L501.3,680.7Z" fill="#0000ff"/>
<path d="M513.0,690.5L516.7,684.1L509.3,684.1Z" fill="#0000ff"/>
<path d="M520.0,687.5L523.7,681.1L516.3,681.1Z" fill="#0000ff"/>
<path d="M527.0,685.5L530.7,679.1L523.3,679.1Z" fill="#0000ff"/>
<path d="M531.0,688.5L534.7,682.1L527.3,682.1Z" fill="#0000ff"/>
<path d="M539.0,685.5L542.7,679.1L535.3,679.1Z" fill="#0000ff"/>
<path d="M547.0,686.5L550.7,680.1L543.3,680.1Z" fill="#0000ff"/>
<path d="M559.0,688.5L562.7,682.1L555.3,682.1Z" fill="#0000ff"/>
<path d="M565.0,692.5L568.7,686.1L561.3,686.1Z" fill="#0000ff"/>
<path d="M573.0,691.5L576.7,685.1L569.3,685.1Z" fill="#0000ff"/>
<path d="M579.0,689.5L582.7,683.1L575.3,683.1Z" fill="#0000ff"/>
<path d="M580.0,693.5L583.7,687.1L576.3,687.1Z" fill="#0000ff"/>
<path d="M592.0,694.5L595.7,688.1L588.3,688.1Z" fill="#0000ff"/>
<path d="M601.0,699.5L604.7,693.1L597.3,693.1Z" fill="#0000ff"/>
<path d="M607.0,707.5L610.7,701.1L603.3,701.1Z" fill="#0000ff"/>
<path d="M613.0,709.5L616.7,703.1L609.3,703.1Z" fill="#0000ff"/>
<path d="M622.0,718.5L625.7,712.1L618.3,712.1Z" fill="#0000ff"/>
<path d="M625.0,721.5L628.7,715.1L621.3,715.1Z" fill="#0000ff"/>
<path d="M631.0,727.5L634.7,721.1L627.3,721.1Z" fill="#0000ff"/>
<path d="M637.0,733.5L640.7,727.1L633.3,727.1Z" fill="#0000ff"/>
<path d="M642.0,740.5L645.7,734.1L638.3,734.1Z" fill="#0000ff"/>
<path d="M641.0,747.5L644.7,741.1L637.3,741.1Z" fill="#0000ff"/>
<path d="M639.0,754.5L642.7,748.1L635.3,748.1Z" fill="#0000ff"/>
<path d="M635.0,763.5L638.7,757.1L631.3,757.1Z" fill="#0000ff"/>
<path d="M631.0,768.5L634.7,762.1L627.3,762.1Z" fill="#0000ff"/>
<path d="M625.0,771.5L628.7,765.1L621.3,765.1Z" fill="#0000ff"/>
<path d="M619.0,772.5L622.7,766.1L615.3,766.1Z" fill="#0000ff"/>
<path d="M611.0,774.5L614.7,768.1L607.3,768.1Z" fill="#0000ff"/>
<path d="M605.0,778.5L608.7,772.1L601.3,772.1Z" fill="#0000ff"/>
<path d="M599.0,779.5L602.7,773.1L595.3,773.1Z" fill="#0000ff"/>
<path d="M593.0,772.5L596.7,766.1L589.3,766.1Z" fill="#0000ff"/>
<path d="M585.0,771.5L588.7,765.1L581.3,765.1Z" fill="#0000ff"/>
<path d="M579.0,770.5L582.7,764.1L575.3,764.1Z" fill="#0000ff"/>
<path d="M574.0,768.5L577.7,762.1L570.3,762.1Z" fill="#0000ff"/>
<path d="M574.2,690.0L577.7,683.8L570.6,683.8Z" fill="#0000ff"/>
<path d="M580.5,691.2L584.1,685.0L577.0,685.0Z" fill="#0000ff"/>
<path d="M581.6,693.5L585.1,687.3L578.0,687.3Z" fill="#0000ff"/>
<path d="M585.2,693.4L588.8,687.2L581.7,687.2Z" fill="#0000ff"/>
<path d="M592.9,694.4L596.5,688.2L589.3,688.2Z" fill="#0000ff"/>
<path d="M598.0,695.4L601.6,689.2L594.5,689.2Z" fill="#0000ff"/>
<path d="M600.9,700.7L604.5,694.5L597.4,694.5Z" fill="#0000ff"/>
<path d="M604.4,703.6L607.9,697.4L600.8,697.4Z" fill="#0000ff"/>
<path d="M605.5,706.1L609.1,699.9L602.0,699.9Z" fill="#0000ff"/>
<path d="M612.2,710.8L615.7,704.6L608.6,704.6Z" fill="#0000ff"/>
<path d="M618.7,712.9L622.3,706.7L615.2,706.7Z" fill="#0000ff"/>
<path d="M623.5,716.7L627.1,710.5L620.0,710.5Z" fill="#0000ff"/>
<path d="M625.4,723.1L628.9,716.9L621.8,716.9Z" fill="#0000ff"/>
<path d="M630.4,729.0L634.0,722.8L626.9,722.8Z" fill="#0000ff"/>
<path d="M637.6,731.8L641.1,725.6L634.0,725.6Z" fill="#0000ff"/>
<path d="M641.4,740.2L645.0,734.0L637.8,734.0Z" fill="#0000ff"/>
<path d="M640.1,748.3L643.7,742.1L636.5,742.1Z" fill="#0000ff"/>
<path d="M637.8,755.4L641.4,749.2L634.3,749.2Z" fill="#0000ff"/>
<path d="M636.3,757.4L639.8,751.2L632.7,751.2Z" fill="#0000ff"/>
<path d="M635.2,762.0L638.8,755.8L631.6,755.8Z" fill="#0000ff"/>
<path d="M631.2,769.4L634.8,763.2L627.6,763.2Z" fill="#0000ff"/>
<path d="M625.3,771.3L628.9,765.1L621.8,765.1Z" fill="#0000ff"/>
<path d="M617.3,772.5L620.9,766.3L613.8,766.3Z" fill="#0000ff"/>
<path d="M609.6,774.9L613.1,768.7L606.0,768.7Z" fill="#0000ff"/>
<path d="M603.7,778.7L607.2,772.5L600.1,772.5Z" fill="#0000ff"/>
<path d="M598.5,779.0L602.0,772.8L594.9,772.8Z" fill="#0000ff"/>
<path d="M593.6,771.2L597.2,765.0L590.0,765.0Z" fill="#0000ff"/>
<path d="M583.8,773.0L587.4,766.8L580.2,766.8Z" fill="#0000ff"/>
<path d="M578.4,771.6L582.0,765.4L574.8,765.4Z" fill="#0000ff"/>
<path d="M575.3,768.3L578.9,762.1L571.8,762.1Z" fill="#0000ff"/>
<polyline points="433.7,745.0 436.0,737.0 438.3,729.0 441.0,723.0 445.4,716.8 449.0,713.0 453.6,709.6 459.0,706.5 465.9,703.5 473.0,697.0 481.2,691.2 488.4,689.2" fill="none" stroke="#00ffff" stroke-width="6.5" stroke-linejoin="round" stroke-linecap="round"/>
<rect x="430.8" y="742.1" width="5.2" height="5.2" fill="#00ffff"/>
<rect x="432.2" y="739.4" width="5.2" height="5.2" fill="#00ffff"/>
<rect x="432.6" y="737.1" width="5.2" height="5.2" fill="#00ffff"/>
<rect x="433.1" y="734.4" width="5.2" height="5.2" fill="#00ffff"/>
<rect x="433.9" y="731.8" width="5.2" height="5.2" fill="#00ffff"/>
<rect x="434.9" y="729.0" width="5.2" height="5.2" fill="#00ffff"/>
<rect x="435.5" y="726.3" width="5.2" height="5.2" fill="#00ffff"/>
<rect x="436.4" y="724.1" width="5.2" height="5.2" fill="#00ffff"/>
<rect x="437.3" y="722.7" width="5.2" height="5.2" fill="#00ffff"/>
<rect x="438.4" y="720.7" width="5.2" height="5.2" fill="#00ffff"/>
<rect x="439.5" y="718.7" width="5.2" height="5.2" fill="#00ffff"/>
<rect x="441.3" y="716.5" width="5.2" height="5.2" fill="#00ffff"/>
<rect x="442.9" y="714.4" width="5.2" height="5.2" fill="#00ffff"/>
<rect x="444.4" y="712.5" width="5.2" height="5.2" fill="#00ffff"/>
<rect x="446.1" y="710.2" width="5.2" height="5.2" fill="#00ffff"/>
<rect x="448.3" y="708.6" width="5.2" height="5.2" fill="#00ffff"/>
<rect x="451.0" y="706.8" width="5.2" height="5.2" fill="#00ffff"/>
<rect x="454.0" y="705.1" width="5.2" height="5.2" fill="#00ffff"/>
<rect x="456.5" y="703.7" width="5.2" height="5.2" fill="#00ffff"/>
<rect x="458.8" y="703.1" width="5.2" height="5.2" fill="#00ffff"/>
<rect x="461.2" y="701.5" width="5.2" height="5.2" fill="#00ffff"/>
<rect x="463.1" y="701.0" width="5.2" height="5.2" fill="#00ffff"/>
<rect x="465.5" y="698.9" width="5.2" height="5.2" fill="#00ffff"/>
<rect x="466.9" y="697.8" width="5.2" height="5.2" fill="#00ffff"/>
<rect x="468.9" y="695.9" width="5.2" height="5.2" fill="#00ffff"/>
<rect x="470.6" y="694.4" width="5.2" height="5.2" fill="#00ffff"/>
<rect x="472.8" y="692.6" width="5.2" height="5.2" fill="#00ffff"/>
<rect x="474.9" y="691.4" width="5.2" height="5.2" fill="#00ffff"/>
<rect x="476.5" y="689.7" width="5.2" height="5.2" fill="#00ffff"/>
<rect x="478.4" y="688.8" width="5.2" height="5.2" fill="#00ffff"/>
<rect x="481.1" y="687.7" width="5.2" height="5.2" fill="#00ffff"/>
<rect x="483.3" y="687.0" width="5.2" height="5.2" fill="#00ffff"/>
<rect x="485.6" y="686.4" width="5.2" height="5.2" fill="#00ffff"/>
<rect x="494.3" y="685.3" width="5.4" height="5.4" fill="#00ffff"/>
<rect x="500.3" y="685.3" width="5.4" height="5.4" fill="#00ffff"/>
<rect x="506.3" y="685.3" width="5.4" height="5.4" fill="#00ffff"/>
<rect x="514.3" y="684.3" width="5.4" height="5.4" fill="#00ffff"/>
<rect x="524.3" y="684.3" width="5.4" height="5.4" fill="#00ffff"/>
<rect x="534.3" y="687.3" width="5.4" height="5.4" fill="#00ffff"/>
<rect x="542.3" y="689.3" width="5.4" height="5.4" fill="#00ffff"/>
<rect x="549.3" y="687.3" width="5.4" height="5.4" fill="#00ffff"/>
<rect x="556.3" y="692.3" width="5.4" height="5.4" fill="#00ffff"/>
<rect x="563.3" y="692.3" width="5.4" height="5.4" fill="#00ffff"/>
<rect x="573.3" y="694.3" width="5.4" height="5.4" fill="#00ffff"/>
<rect x="579.3" y="700.3" width="5.4" height="5.4" fill="#00ffff"/>
<rect x="582.3" y="696.3" width="5.4" height="5.4" fill="#00ffff"/>
<rect x="590.3" y="704.3" width="5.4" height="5.4" fill="#00ffff"/>
<rect x="603.3" y="710.3" width="5.4" height="5.4" fill="#00ffff"/>
<rect x="604.3" y="717.3" width="5.4" height="5.4" fill="#00ffff"/>
<rect x="608.3" y="726.3" width="5.4" height="5.4" fill="#00ffff"/>
<rect x="612.3" y="723.3" width="5.4" height="5.4" fill="#00ffff"/>
<rect x="615.3" y="729.3" width="5.4" height="5.4" fill="#00ffff"/>
<rect x="616.3" y="737.3" width="5.4" height="5.4" fill="#00ffff"/>
<rect x="611.3" y="743.3" width="5.4" height="5.4" fill="#00ffff"/>
<rect x="617.3" y="749.3" width="5.4" height="5.4" fill="#00ffff"/>
<rect x="607.3" y="756.3" width="5.4" height="5.4" fill="#00ffff"/>
<rect x="612.3" y="760.3" width="5.4" height="5.4" fill="#00ffff"/>
<rect x="604.3" y="765.3" width="5.4" height="5.4" fill="#00ffff"/>
<rect x="598.3" y="769.3" width="5.4" height="5.4" fill="#00ffff"/>
<rect x="590.3" y="770.3" width="5.4" height="5.4" fill="#00ffff"/>
<rect x="584.3" y="770.3" width="5.4" height="5.4" fill="#00ffff"/>
<rect x="573.3" y="772.3" width="5.4" height="5.4" fill="#00ffff"/>
<rect x="566.3" y="770.3" width="5.4" height="5.4" fill="#00ffff"/>
<rect x="558.3" y="766.3" width="5.4" height="5.4" fill="#00ffff"/>
<rect x="550.3" y="764.3" width="5.4" height="5.4" fill="#00ffff"/>
<rect x="544.3" y="762.3" width="5.4" height="5.4" fill="#00ffff"/>
<rect x="537.3" y="760.3" width="5.4" height="5.4" fill="#00ffff"/>
<line x1="471" y1="717" x2="447.4" y2="701.5" stroke="#000000" stroke-width="1.4"/>
<path d="M442.0,698.0L450.3,698.8L446.1,705.3Z" fill="#000000"/>
<line x1="487" y1="704" x2="464.1" y2="669.0" stroke="#ff0000" stroke-width="1.4"/>
<path d="M460.6,663.6L467.9,667.7L461.4,671.9Z" fill="#ff0000"/>
<line x1="503" y1="697" x2="488.3" y2="659.0" stroke="#66ee33" stroke-width="1.4"/>
<path d="M486.0,653.0L492.3,658.5L485.0,661.3Z" fill="#66ee33"/>
<line x1="527" y1="684" x2="531.5" y2="651.3" stroke="#00ffff" stroke-width="1.4"/>
<path d="M532.4,645.0L535.2,652.9L527.5,651.8Z" fill="#00ffff"/>
<line x1="548" y1="683" x2="569.5" y2="670.3" stroke="#1010c0" stroke-width="1.4"/>
<path d="M575.0,667.0L570.6,674.1L566.6,667.4Z" fill="#1010c0"/>
<text x="409" y="693.6" font-size="12.6" text-anchor="start" >37.87Hz</text>
<text x="432" y="660" font-size="12.6" text-anchor="start" >21.74Hz</text>
<text x="459.4" y="643" font-size="12.6" text-anchor="start" >19.46Hz</text>
<text x="519" y="641.6" font-size="12.6" text-anchor="start" >17.41Hz</text>
<text x="576.4" y="665.6" font-size="12.6" text-anchor="start" >13.95Hz</text>
</svg></body></html>
